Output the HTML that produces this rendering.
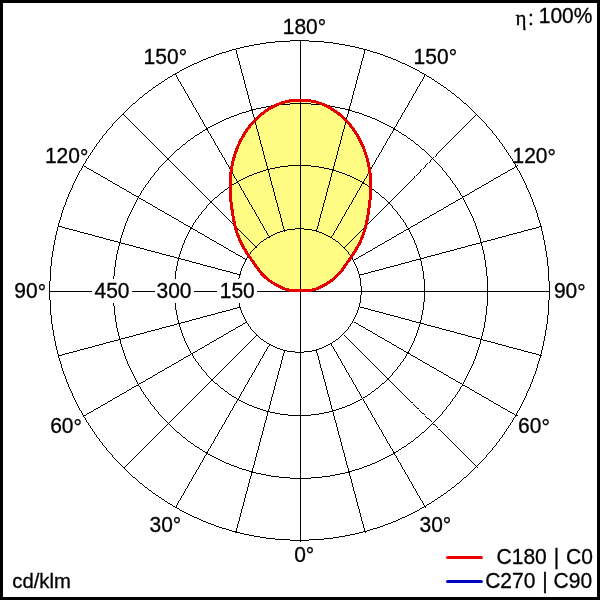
<!DOCTYPE html>
<html><head><meta charset="utf-8"><title>Polar diagram</title>
<style>html,body{margin:0;padding:0;background:#fff;}svg{display:block;}</style>
</head><body>
<svg width="600" height="600" viewBox="0 0 600 600">
<rect x="0" y="0" width="600" height="600" fill="#fff"/>
<path d="M300.40,290.80 L296.27,290.73 L293.34,290.55 L290.91,290.30 L288.90,290.00 L287.21,289.65 L285.79,289.26 L284.54,288.85 L283.40,288.41 L282.28,287.93 L281.11,287.40 L279.86,286.81 L278.53,286.15 L277.15,285.43 L275.71,284.64 L274.25,283.79 L272.76,282.87 L271.26,281.89 L269.77,280.85 L268.29,279.74 L266.85,278.59 L265.45,277.38 L264.10,276.13 L262.82,274.85 L261.61,273.53 L260.47,272.18 L259.38,270.79 L258.30,269.35 L257.20,267.83 L256.06,266.22 L254.85,264.50 L253.55,262.65 L252.13,260.64 L250.60,258.46 L249.00,256.13 L247.36,253.66 L245.72,251.07 L244.10,248.37 L242.54,245.60 L241.07,242.76 L239.73,239.89 L238.52,237.01 L237.44,234.11 L236.49,231.20 L235.63,228.26 L234.87,225.27 L234.18,222.23 L233.56,219.12 L232.99,215.93 L232.46,212.64 L231.96,209.24 L231.49,205.70 L231.05,202.03 L230.67,198.26 L230.36,194.40 L230.16,190.48 L230.07,186.54 L230.12,182.58 L230.32,178.65 L230.66,174.73 L231.15,170.85 L231.77,167.00 L232.55,163.19 L233.46,159.42 L234.52,155.72 L235.71,152.07 L237.04,148.49 L238.51,144.99 L240.11,141.57 L241.84,138.24 L243.69,135.00 L245.68,131.87 L247.78,128.84 L249.99,125.93 L252.32,123.14 L254.76,120.47 L257.30,117.95 L259.94,115.56 L262.68,113.32 L265.50,111.24 L268.40,109.32 L271.38,107.56 L274.43,105.98 L277.53,104.57 L280.70,103.35 L283.91,102.31 L287.16,101.47 L290.44,100.83 L293.75,100.38 L297.07,100.14 L300.40,100.09 L303.73,100.14 L307.05,100.38 L310.36,100.83 L313.64,101.47 L316.89,102.31 L320.10,103.35 L323.27,104.57 L326.37,105.98 L329.42,107.56 L332.40,109.32 L335.30,111.24 L338.12,113.32 L340.86,115.56 L343.50,117.95 L346.04,120.47 L348.48,123.14 L350.81,125.93 L353.02,128.84 L355.12,131.87 L357.11,135.00 L358.96,138.24 L360.69,141.57 L362.29,144.99 L363.76,148.49 L365.09,152.07 L366.28,155.72 L367.34,159.42 L368.25,163.19 L369.03,167.00 L369.65,170.85 L370.14,174.73 L370.48,178.65 L370.68,182.58 L370.73,186.54 L370.64,190.48 L370.44,194.40 L370.13,198.26 L369.75,202.03 L369.31,205.70 L368.84,209.24 L368.34,212.64 L367.81,215.93 L367.24,219.12 L366.62,222.23 L365.93,225.27 L365.17,228.26 L364.31,231.20 L363.36,234.11 L362.28,237.01 L361.07,239.89 L359.73,242.76 L358.26,245.60 L356.70,248.37 L355.08,251.07 L353.44,253.66 L351.80,256.13 L350.20,258.46 L348.67,260.64 L347.25,262.65 L345.95,264.50 L344.74,266.22 L343.60,267.83 L342.50,269.35 L341.42,270.79 L340.33,272.18 L339.19,273.53 L337.98,274.85 L336.70,276.13 L335.35,277.38 L333.95,278.59 L332.51,279.74 L331.03,280.85 L329.54,281.89 L328.04,282.87 L326.55,283.79 L325.09,284.64 L323.65,285.43 L322.27,286.15 L320.94,286.81 L319.69,287.40 L318.52,287.93 L317.40,288.41 L316.26,288.85 L315.01,289.26 L313.59,289.65 L311.90,290.00 L309.89,290.30 L307.46,290.55 L304.53,290.73 L300.40,290.80Z" fill="#FFFC84" stroke="none" shape-rendering="crispEdges"/>
<path d="M290 40h19v1h-19zM275 41h15v1h-15zM300 41h1v1h-1zM309 41h15v1h-15zM266 42h9v1h-9zM300 42h1v1h-1zM324 42h9v1h-9zM260 43h6v1h-6zM300 43h1v1h-1zM333 43h6v1h-6zM254 44h6v1h-6zM300 44h1v1h-1zM339 44h6v1h-6zM249 45h5v1h-5zM300 45h1v1h-1zM345 45h5v1h-5zM244 46h5v1h-5zM300 46h1v1h-1zM350 46h5v1h-5zM240 47h4v1h-4zM300 47h1v1h-1zM355 47h4v1h-4zM236 48h4v1h-4zM300 48h1v1h-1zM359 48h4v1h-4zM232 49h4v1h-4zM300 49h1v1h-1zM363 49h4v1h-4zM229 50h3v1h-3zM236 50h1v1h-1zM300 50h1v1h-1zM364 50h1v1h-1zM367 50h3v1h-3zM226 51h3v1h-3zM236 51h1v1h-1zM300 51h1v1h-1zM364 51h1v1h-1zM370 51h3v1h-3zM222 52h4v1h-4zM236 52h1v1h-1zM300 52h1v1h-1zM364 52h1v1h-1zM373 52h4v1h-4zM219 53h3v1h-3zM236 53h1v1h-1zM300 53h1v1h-1zM364 53h1v1h-1zM377 53h3v1h-3zM216 54h3v1h-3zM237 54h1v1h-1zM300 54h1v1h-1zM363 54h1v1h-1zM380 54h3v1h-3zM214 55h2v1h-2zM237 55h1v1h-1zM300 55h1v1h-1zM363 55h1v1h-1zM383 55h2v1h-2zM211 56h3v1h-3zM237 56h1v1h-1zM300 56h1v1h-1zM363 56h1v1h-1zM385 56h3v1h-3zM208 57h3v1h-3zM237 57h1v1h-1zM300 57h1v1h-1zM363 57h1v1h-1zM388 57h3v1h-3zM206 58h2v1h-2zM238 58h1v1h-1zM300 58h1v1h-1zM362 58h1v1h-1zM391 58h2v1h-2zM203 59h3v1h-3zM238 59h1v1h-1zM300 59h1v1h-1zM362 59h1v1h-1zM393 59h3v1h-3zM201 60h2v1h-2zM238 60h1v1h-1zM300 60h1v1h-1zM362 60h1v1h-1zM396 60h2v1h-2zM199 61h2v1h-2zM239 61h1v1h-1zM300 61h1v1h-1zM361 61h1v1h-1zM398 61h2v1h-2zM197 62h2v1h-2zM239 62h1v1h-1zM300 62h1v1h-1zM361 62h1v1h-1zM400 62h2v1h-2zM194 63h3v1h-3zM239 63h1v1h-1zM300 63h1v1h-1zM361 63h1v1h-1zM402 63h3v1h-3zM192 64h2v1h-2zM239 64h1v1h-1zM300 64h1v1h-1zM361 64h1v1h-1zM405 64h2v1h-2zM190 65h2v1h-2zM240 65h1v1h-1zM300 65h1v1h-1zM360 65h1v1h-1zM407 65h2v1h-2zM188 66h2v1h-2zM240 66h1v1h-1zM300 66h1v1h-1zM360 66h1v1h-1zM409 66h2v1h-2zM186 67h2v1h-2zM240 67h1v1h-1zM300 67h1v1h-1zM360 67h1v1h-1zM411 67h2v1h-2zM184 68h2v1h-2zM240 68h1v1h-1zM300 68h1v1h-1zM360 68h1v1h-1zM413 68h2v1h-2zM182 69h2v1h-2zM241 69h1v1h-1zM300 69h1v1h-1zM359 69h1v1h-1zM415 69h2v1h-2zM180 70h2v1h-2zM241 70h1v1h-1zM300 70h1v1h-1zM359 70h1v1h-1zM417 70h2v1h-2zM179 71h1v1h-1zM241 71h1v1h-1zM300 71h1v1h-1zM359 71h1v1h-1zM419 71h1v1h-1zM177 72h2v1h-2zM241 72h1v1h-1zM300 72h1v1h-1zM359 72h1v1h-1zM420 72h2v1h-2zM175 73h2v1h-2zM242 73h1v1h-1zM300 73h1v1h-1zM358 73h1v1h-1zM422 73h2v1h-2zM173 74h3v1h-3zM242 74h1v1h-1zM300 74h1v1h-1zM358 74h1v1h-1zM424 74h2v1h-2zM172 75h1v1h-1zM176 75h1v1h-1zM242 75h1v1h-1zM300 75h1v1h-1zM358 75h1v1h-1zM424 75h1v1h-1zM426 75h1v1h-1zM170 76h2v1h-2zM176 76h1v1h-1zM243 76h1v1h-1zM300 76h1v1h-1zM357 76h1v1h-1zM424 76h1v1h-1zM427 76h2v1h-2zM168 77h2v1h-2zM177 77h1v1h-1zM243 77h1v1h-1zM300 77h1v1h-1zM357 77h1v1h-1zM423 77h1v1h-1zM429 77h2v1h-2zM167 78h1v1h-1zM177 78h1v1h-1zM243 78h1v1h-1zM300 78h1v1h-1zM357 78h1v1h-1zM423 78h1v1h-1zM431 78h1v1h-1zM165 79h2v1h-2zM178 79h1v1h-1zM243 79h1v1h-1zM300 79h1v1h-1zM357 79h1v1h-1zM422 79h1v1h-1zM432 79h2v1h-2zM164 80h1v1h-1zM178 80h1v1h-1zM244 80h1v1h-1zM300 80h1v1h-1zM356 80h1v1h-1zM422 80h1v1h-1zM434 80h1v1h-1zM162 81h2v1h-2zM179 81h1v1h-1zM244 81h1v1h-1zM300 81h1v1h-1zM356 81h1v1h-1zM421 81h1v1h-1zM435 81h2v1h-2zM161 82h1v1h-1zM180 82h1v1h-1zM244 82h1v1h-1zM300 82h1v1h-1zM356 82h1v1h-1zM420 82h1v1h-1zM437 82h1v1h-1zM159 83h2v1h-2zM180 83h1v1h-1zM244 83h1v1h-1zM300 83h1v1h-1zM356 83h1v1h-1zM420 83h1v1h-1zM438 83h2v1h-2zM158 84h1v1h-1zM181 84h1v1h-1zM245 84h1v1h-1zM300 84h1v1h-1zM355 84h1v1h-1zM419 84h1v1h-1zM440 84h1v1h-1zM156 85h2v1h-2zM181 85h1v1h-1zM245 85h1v1h-1zM300 85h1v1h-1zM355 85h1v1h-1zM419 85h1v1h-1zM441 85h2v1h-2zM155 86h1v1h-1zM182 86h1v1h-1zM245 86h1v1h-1zM300 86h1v1h-1zM355 86h1v1h-1zM418 86h1v1h-1zM443 86h1v1h-1zM153 87h2v1h-2zM183 87h1v1h-1zM245 87h1v1h-1zM300 87h1v1h-1zM355 87h1v1h-1zM417 87h1v1h-1zM444 87h2v1h-2zM152 88h1v1h-1zM183 88h1v1h-1zM246 88h1v1h-1zM300 88h1v1h-1zM354 88h1v1h-1zM417 88h1v1h-1zM446 88h1v1h-1zM151 89h1v1h-1zM184 89h1v1h-1zM246 89h1v1h-1zM300 89h1v1h-1zM354 89h1v1h-1zM416 89h1v1h-1zM447 89h1v1h-1zM149 90h2v1h-2zM184 90h1v1h-1zM246 90h1v1h-1zM300 90h1v1h-1zM354 90h1v1h-1zM416 90h1v1h-1zM448 90h2v1h-2zM148 91h1v1h-1zM185 91h1v1h-1zM247 91h1v1h-1zM300 91h1v1h-1zM353 91h1v1h-1zM415 91h1v1h-1zM450 91h1v1h-1zM147 92h1v1h-1zM185 92h1v1h-1zM247 92h1v1h-1zM300 92h1v1h-1zM353 92h1v1h-1zM415 92h1v1h-1zM451 92h1v1h-1zM145 93h2v1h-2zM186 93h1v1h-1zM247 93h1v1h-1zM300 93h1v1h-1zM353 93h1v1h-1zM414 93h1v1h-1zM452 93h2v1h-2zM144 94h1v1h-1zM187 94h1v1h-1zM247 94h1v1h-1zM300 94h1v1h-1zM353 94h1v1h-1zM413 94h1v1h-1zM454 94h1v1h-1zM143 95h1v1h-1zM187 95h1v1h-1zM248 95h1v1h-1zM300 95h1v1h-1zM352 95h1v1h-1zM413 95h1v1h-1zM455 95h1v1h-1zM142 96h1v1h-1zM188 96h1v1h-1zM248 96h1v1h-1zM300 96h1v1h-1zM352 96h1v1h-1zM412 96h1v1h-1zM456 96h1v1h-1zM140 97h2v1h-2zM188 97h1v1h-1zM248 97h1v1h-1zM300 97h1v1h-1zM352 97h1v1h-1zM412 97h1v1h-1zM457 97h2v1h-2zM139 98h1v1h-1zM189 98h1v1h-1zM248 98h1v1h-1zM300 98h1v1h-1zM352 98h1v1h-1zM411 98h1v1h-1zM459 98h1v1h-1zM138 99h1v1h-1zM189 99h1v1h-1zM249 99h1v1h-1zM300 99h1v1h-1zM351 99h1v1h-1zM411 99h1v1h-1zM460 99h1v1h-1zM137 100h1v1h-1zM190 100h1v1h-1zM249 100h1v1h-1zM300 100h1v1h-1zM351 100h1v1h-1zM410 100h1v1h-1zM461 100h1v1h-1zM136 101h1v1h-1zM191 101h1v1h-1zM249 101h1v1h-1zM300 101h1v1h-1zM351 101h1v1h-1zM409 101h1v1h-1zM462 101h1v1h-1zM135 102h1v1h-1zM191 102h1v1h-1zM249 102h1v1h-1zM300 102h1v1h-1zM351 102h1v1h-1zM409 102h1v1h-1zM463 102h1v1h-1zM133 103h2v1h-2zM192 103h1v1h-1zM250 103h1v1h-1zM290 103h21v1h-21zM350 103h1v1h-1zM408 103h1v1h-1zM464 103h2v1h-2zM132 104h1v1h-1zM192 104h1v1h-1zM250 104h1v1h-1zM279 104h11v1h-11zM300 104h1v1h-1zM311 104h11v1h-11zM350 104h1v1h-1zM408 104h1v1h-1zM466 104h1v1h-1zM131 105h1v1h-1zM193 105h1v1h-1zM250 105h1v1h-1zM271 105h8v1h-8zM300 105h1v1h-1zM322 105h8v1h-8zM350 105h1v1h-1zM407 105h1v1h-1zM467 105h1v1h-1zM130 106h1v1h-1zM193 106h1v1h-1zM251 106h1v1h-1zM266 106h5v1h-5zM300 106h1v1h-1zM330 106h5v1h-5zM349 106h1v1h-1zM407 106h1v1h-1zM468 106h1v1h-1zM129 107h1v1h-1zM194 107h1v1h-1zM251 107h1v1h-1zM261 107h5v1h-5zM300 107h1v1h-1zM335 107h5v1h-5zM349 107h1v1h-1zM406 107h1v1h-1zM469 107h1v1h-1zM128 108h1v1h-1zM195 108h1v1h-1zM251 108h1v1h-1zM256 108h5v1h-5zM300 108h1v1h-1zM340 108h5v1h-5zM349 108h1v1h-1zM405 108h1v1h-1zM470 108h1v1h-1zM127 109h1v1h-1zM195 109h1v1h-1zM251 109h5v1h-5zM300 109h1v1h-1zM345 109h5v1h-5zM405 109h1v1h-1zM471 109h1v1h-1zM126 110h1v1h-1zM196 110h1v1h-1zM249 110h4v1h-4zM300 110h1v1h-1zM348 110h4v1h-4zM404 110h1v1h-1zM472 110h1v1h-1zM125 111h1v1h-1zM196 111h1v1h-1zM246 111h3v1h-3zM252 111h1v1h-1zM300 111h1v1h-1zM348 111h1v1h-1zM352 111h3v1h-3zM404 111h1v1h-1zM473 111h1v1h-1zM124 112h1v1h-1zM197 112h1v1h-1zM242 112h4v1h-4zM252 112h1v1h-1zM300 112h1v1h-1zM348 112h1v1h-1zM355 112h4v1h-4zM403 112h1v1h-1zM474 112h1v1h-1zM123 113h1v1h-1zM198 113h1v1h-1zM239 113h3v1h-3zM252 113h1v1h-1zM300 113h1v1h-1zM348 113h1v1h-1zM359 113h3v1h-3zM402 113h1v1h-1zM475 113h1v1h-1zM122 114h2v1h-2zM198 114h1v1h-1zM237 114h2v1h-2zM253 114h1v1h-1zM300 114h1v1h-1zM347 114h1v1h-1zM362 114h2v1h-2zM402 114h1v1h-1zM476 114h1v1h-1zM121 115h1v1h-1zM124 115h1v1h-1zM199 115h1v1h-1zM234 115h3v1h-3zM253 115h1v1h-1zM300 115h1v1h-1zM347 115h1v1h-1zM364 115h3v1h-3zM401 115h1v1h-1zM475 115h1v1h-1zM477 115h1v1h-1zM120 116h1v1h-1zM125 116h1v1h-1zM199 116h1v1h-1zM231 116h3v1h-3zM253 116h1v1h-1zM300 116h1v1h-1zM347 116h1v1h-1zM367 116h3v1h-3zM401 116h1v1h-1zM474 116h1v1h-1zM478 116h1v1h-1zM119 117h1v1h-1zM126 117h1v1h-1zM200 117h1v1h-1zM229 117h2v1h-2zM254 117h1v1h-1zM300 117h1v1h-1zM346 117h1v1h-1zM370 117h2v1h-2zM400 117h1v1h-1zM473 117h1v1h-1zM479 117h1v1h-1zM118 118h1v1h-1zM127 118h1v1h-1zM200 118h1v1h-1zM226 118h3v1h-3zM254 118h1v1h-1zM300 118h1v1h-1zM346 118h1v1h-1zM372 118h3v1h-3zM400 118h1v1h-1zM472 118h1v1h-1zM480 118h1v1h-1zM117 119h1v1h-1zM128 119h1v1h-1zM201 119h1v1h-1zM224 119h2v1h-2zM254 119h1v1h-1zM300 119h1v1h-1zM346 119h1v1h-1zM375 119h2v1h-2zM399 119h1v1h-1zM471 119h1v1h-1zM481 119h1v1h-1zM116 120h1v1h-1zM129 120h1v1h-1zM202 120h1v1h-1zM222 120h2v1h-2zM254 120h1v1h-1zM300 120h1v1h-1zM346 120h1v1h-1zM377 120h2v1h-2zM398 120h1v1h-1zM470 120h1v1h-1zM482 120h1v1h-1zM115 121h1v1h-1zM130 121h1v1h-1zM202 121h1v1h-1zM220 121h2v1h-2zM255 121h1v1h-1zM300 121h1v1h-1zM345 121h1v1h-1zM379 121h2v1h-2zM398 121h1v1h-1zM469 121h1v1h-1zM483 121h1v1h-1zM114 122h1v1h-1zM131 122h1v1h-1zM203 122h1v1h-1zM218 122h2v1h-2zM255 122h1v1h-1zM300 122h1v1h-1zM345 122h1v1h-1zM381 122h2v1h-2zM397 122h1v1h-1zM468 122h1v1h-1zM484 122h1v1h-1zM113 123h1v1h-1zM132 123h1v1h-1zM203 123h1v1h-1zM216 123h2v1h-2zM255 123h1v1h-1zM300 123h1v1h-1zM345 123h1v1h-1zM383 123h2v1h-2zM397 123h1v1h-1zM467 123h1v1h-1zM485 123h1v1h-1zM112 124h1v1h-1zM133 124h1v1h-1zM204 124h1v1h-1zM214 124h2v1h-2zM255 124h1v1h-1zM300 124h1v1h-1zM345 124h1v1h-1zM385 124h2v1h-2zM396 124h1v1h-1zM466 124h1v1h-1zM486 124h1v1h-1zM112 125h1v1h-1zM134 125h1v1h-1zM204 125h1v1h-1zM212 125h2v1h-2zM256 125h1v1h-1zM300 125h1v1h-1zM344 125h1v1h-1zM387 125h2v1h-2zM396 125h1v1h-1zM465 125h1v1h-1zM486 125h1v1h-1zM111 126h1v1h-1zM135 126h1v1h-1zM205 126h1v1h-1zM210 126h2v1h-2zM256 126h1v1h-1zM300 126h1v1h-1zM344 126h1v1h-1zM389 126h2v1h-2zM395 126h1v1h-1zM464 126h1v1h-1zM487 126h1v1h-1zM110 127h1v1h-1zM136 127h1v1h-1zM206 127h1v1h-1zM208 127h2v1h-2zM256 127h1v1h-1zM300 127h1v1h-1zM344 127h1v1h-1zM391 127h2v1h-2zM394 127h1v1h-1zM463 127h1v1h-1zM488 127h1v1h-1zM109 128h1v1h-1zM137 128h1v1h-1zM206 128h2v1h-2zM256 128h1v1h-1zM300 128h1v1h-1zM344 128h1v1h-1zM393 128h2v1h-2zM462 128h1v1h-1zM489 128h1v1h-1zM108 129h1v1h-1zM138 129h1v1h-1zM205 129h3v1h-3zM257 129h1v1h-1zM300 129h1v1h-1zM343 129h1v1h-1zM393 129h3v1h-3zM461 129h1v1h-1zM490 129h1v1h-1zM107 130h1v1h-1zM139 130h1v1h-1zM203 130h2v1h-2zM207 130h1v1h-1zM257 130h1v1h-1zM300 130h1v1h-1zM343 130h1v1h-1zM393 130h1v1h-1zM396 130h2v1h-2zM460 130h1v1h-1zM491 130h1v1h-1zM106 131h1v1h-1zM140 131h1v1h-1zM202 131h1v1h-1zM208 131h1v1h-1zM257 131h1v1h-1zM300 131h1v1h-1zM343 131h1v1h-1zM392 131h1v1h-1zM398 131h1v1h-1zM459 131h1v1h-1zM492 131h1v1h-1zM106 132h1v1h-1zM141 132h1v1h-1zM200 132h2v1h-2zM208 132h1v1h-1zM258 132h1v1h-1zM300 132h1v1h-1zM342 132h1v1h-1zM392 132h1v1h-1zM399 132h2v1h-2zM458 132h1v1h-1zM492 132h1v1h-1zM105 133h1v1h-1zM142 133h1v1h-1zM199 133h1v1h-1zM209 133h1v1h-1zM258 133h1v1h-1zM300 133h1v1h-1zM342 133h1v1h-1zM391 133h1v1h-1zM401 133h1v1h-1zM457 133h1v1h-1zM493 133h1v1h-1zM104 134h1v1h-1zM143 134h1v1h-1zM197 134h2v1h-2zM210 134h1v1h-1zM258 134h1v1h-1zM300 134h1v1h-1zM342 134h1v1h-1zM390 134h1v1h-1zM402 134h2v1h-2zM456 134h1v1h-1zM494 134h1v1h-1zM103 135h1v1h-1zM144 135h1v1h-1zM195 135h2v1h-2zM210 135h1v1h-1zM258 135h1v1h-1zM300 135h1v1h-1zM342 135h1v1h-1zM390 135h1v1h-1zM404 135h2v1h-2zM455 135h1v1h-1zM495 135h1v1h-1zM102 136h1v1h-1zM145 136h1v1h-1zM194 136h1v1h-1zM211 136h1v1h-1zM259 136h1v1h-1zM300 136h1v1h-1zM341 136h1v1h-1zM389 136h1v1h-1zM406 136h1v1h-1zM454 136h1v1h-1zM496 136h1v1h-1zM102 137h1v1h-1zM146 137h1v1h-1zM193 137h1v1h-1zM211 137h1v1h-1zM259 137h1v1h-1zM300 137h1v1h-1zM341 137h1v1h-1zM389 137h1v1h-1zM407 137h1v1h-1zM453 137h1v1h-1zM496 137h1v1h-1zM101 138h1v1h-1zM147 138h1v1h-1zM191 138h2v1h-2zM212 138h1v1h-1zM259 138h1v1h-1zM300 138h1v1h-1zM341 138h1v1h-1zM388 138h1v1h-1zM408 138h2v1h-2zM452 138h1v1h-1zM497 138h1v1h-1zM100 139h1v1h-1zM148 139h1v1h-1zM190 139h1v1h-1zM213 139h1v1h-1zM259 139h1v1h-1zM300 139h1v1h-1zM341 139h1v1h-1zM387 139h1v1h-1zM410 139h1v1h-1zM451 139h1v1h-1zM498 139h1v1h-1zM99 140h1v1h-1zM149 140h1v1h-1zM188 140h2v1h-2zM213 140h1v1h-1zM260 140h1v1h-1zM300 140h1v1h-1zM340 140h1v1h-1zM387 140h1v1h-1zM411 140h2v1h-2zM450 140h1v1h-1zM499 140h1v1h-1zM99 141h1v1h-1zM150 141h1v1h-1zM187 141h1v1h-1zM214 141h1v1h-1zM260 141h1v1h-1zM300 141h1v1h-1zM340 141h1v1h-1zM386 141h1v1h-1zM413 141h1v1h-1zM449 141h1v1h-1zM499 141h1v1h-1zM98 142h1v1h-1zM151 142h1v1h-1zM186 142h1v1h-1zM214 142h1v1h-1zM260 142h1v1h-1zM300 142h1v1h-1zM340 142h1v1h-1zM386 142h1v1h-1zM414 142h1v1h-1zM448 142h1v1h-1zM500 142h1v1h-1zM97 143h1v1h-1zM152 143h1v1h-1zM185 143h1v1h-1zM215 143h1v1h-1zM260 143h1v1h-1zM300 143h1v1h-1zM340 143h1v1h-1zM385 143h1v1h-1zM415 143h1v1h-1zM447 143h1v1h-1zM501 143h1v1h-1zM96 144h1v1h-1zM153 144h1v1h-1zM183 144h2v1h-2zM215 144h1v1h-1zM261 144h1v1h-1zM300 144h1v1h-1zM339 144h1v1h-1zM385 144h1v1h-1zM416 144h2v1h-2zM446 144h1v1h-1zM502 144h1v1h-1zM96 145h1v1h-1zM154 145h1v1h-1zM182 145h1v1h-1zM216 145h1v1h-1zM261 145h1v1h-1zM300 145h1v1h-1zM339 145h1v1h-1zM384 145h1v1h-1zM418 145h1v1h-1zM445 145h1v1h-1zM502 145h1v1h-1zM95 146h1v1h-1zM155 146h1v1h-1zM181 146h1v1h-1zM217 146h1v1h-1zM261 146h1v1h-1zM300 146h1v1h-1zM339 146h1v1h-1zM383 146h1v1h-1zM419 146h1v1h-1zM444 146h1v1h-1zM503 146h1v1h-1zM94 147h1v1h-1zM156 147h1v1h-1zM180 147h1v1h-1zM217 147h1v1h-1zM262 147h1v1h-1zM300 147h1v1h-1zM338 147h1v1h-1zM383 147h1v1h-1zM420 147h1v1h-1zM443 147h1v1h-1zM504 147h1v1h-1zM94 148h1v1h-1zM157 148h1v1h-1zM179 148h1v1h-1zM218 148h1v1h-1zM262 148h1v1h-1zM300 148h1v1h-1zM338 148h1v1h-1zM382 148h1v1h-1zM421 148h1v1h-1zM442 148h1v1h-1zM504 148h1v1h-1zM93 149h1v1h-1zM158 149h1v1h-1zM177 149h2v1h-2zM218 149h1v1h-1zM262 149h1v1h-1zM300 149h1v1h-1zM338 149h1v1h-1zM382 149h1v1h-1zM422 149h2v1h-2zM441 149h1v1h-1zM505 149h1v1h-1zM92 150h1v1h-1zM159 150h1v1h-1zM176 150h1v1h-1zM219 150h1v1h-1zM262 150h1v1h-1zM300 150h1v1h-1zM338 150h1v1h-1zM381 150h1v1h-1zM424 150h1v1h-1zM440 150h1v1h-1zM506 150h1v1h-1zM92 151h1v1h-1zM160 151h1v1h-1zM175 151h1v1h-1zM219 151h1v1h-1zM263 151h1v1h-1zM300 151h1v1h-1zM337 151h1v1h-1zM381 151h1v1h-1zM425 151h1v1h-1zM439 151h1v1h-1zM506 151h1v1h-1zM91 152h1v1h-1zM161 152h1v1h-1zM174 152h1v1h-1zM220 152h1v1h-1zM263 152h1v1h-1zM300 152h1v1h-1zM337 152h1v1h-1zM380 152h1v1h-1zM426 152h1v1h-1zM438 152h1v1h-1zM507 152h1v1h-1zM90 153h1v1h-1zM162 153h1v1h-1zM173 153h1v1h-1zM221 153h1v1h-1zM263 153h1v1h-1zM300 153h1v1h-1zM337 153h1v1h-1zM379 153h1v1h-1zM427 153h1v1h-1zM437 153h1v1h-1zM508 153h1v1h-1zM90 154h1v1h-1zM163 154h1v1h-1zM172 154h1v1h-1zM221 154h1v1h-1zM263 154h1v1h-1zM300 154h1v1h-1zM337 154h1v1h-1zM379 154h1v1h-1zM428 154h1v1h-1zM436 154h1v1h-1zM508 154h1v1h-1zM89 155h1v1h-1zM164 155h1v1h-1zM171 155h1v1h-1zM222 155h1v1h-1zM264 155h1v1h-1zM300 155h1v1h-1zM336 155h1v1h-1zM378 155h1v1h-1zM429 155h1v1h-1zM436 155h1v1h-1zM509 155h1v1h-1zM88 156h1v1h-1zM165 156h1v1h-1zM170 156h1v1h-1zM222 156h1v1h-1zM264 156h1v1h-1zM300 156h1v1h-1zM336 156h1v1h-1zM378 156h1v1h-1zM430 156h1v1h-1zM435 156h1v1h-1zM510 156h1v1h-1zM88 157h1v1h-1zM166 157h1v1h-1zM169 157h1v1h-1zM223 157h1v1h-1zM264 157h1v1h-1zM300 157h1v1h-1zM336 157h1v1h-1zM377 157h1v1h-1zM431 157h1v1h-1zM433 157h1v1h-1zM510 157h1v1h-1zM87 158h1v1h-1zM167 158h2v1h-2zM224 158h1v1h-1zM264 158h1v1h-1zM300 158h1v1h-1zM336 158h1v1h-1zM376 158h1v1h-1zM432 158h1v1h-1zM511 158h1v1h-1zM86 159h1v1h-1zM167 159h2v1h-2zM224 159h1v1h-1zM265 159h1v1h-1zM300 159h1v1h-1zM335 159h1v1h-1zM376 159h1v1h-1zM431 159h1v1h-1zM433 159h1v1h-1zM512 159h1v1h-1zM86 160h1v1h-1zM166 160h1v1h-1zM169 160h1v1h-1zM225 160h1v1h-1zM265 160h1v1h-1zM300 160h1v1h-1zM335 160h1v1h-1zM375 160h1v1h-1zM430 160h1v1h-1zM434 160h1v1h-1zM512 160h1v1h-1zM85 161h1v1h-1zM165 161h1v1h-1zM170 161h1v1h-1zM225 161h1v1h-1zM265 161h1v1h-1zM300 161h1v1h-1zM335 161h1v1h-1zM375 161h1v1h-1zM430 161h1v1h-1zM435 161h1v1h-1zM513 161h1v1h-1zM85 162h1v1h-1zM164 162h1v1h-1zM171 162h1v1h-1zM226 162h1v1h-1zM266 162h1v1h-1zM300 162h1v1h-1zM334 162h1v1h-1zM374 162h1v1h-1zM429 162h1v1h-1zM436 162h1v1h-1zM513 162h1v1h-1zM84 163h1v1h-1zM163 163h1v1h-1zM172 163h1v1h-1zM226 163h1v1h-1zM266 163h1v1h-1zM300 163h1v1h-1zM334 163h1v1h-1zM374 163h1v1h-1zM427 163h1v1h-1zM437 163h1v1h-1zM514 163h1v1h-1zM83 164h1v1h-1zM162 164h1v1h-1zM173 164h1v1h-1zM227 164h1v1h-1zM266 164h1v1h-1zM300 164h1v1h-1zM334 164h1v1h-1zM373 164h1v1h-1zM426 164h1v1h-1zM438 164h1v1h-1zM515 164h1v1h-1zM83 165h1v1h-1zM161 165h1v1h-1zM174 165h1v1h-1zM228 165h1v1h-1zM266 165h1v1h-1zM288 165h23v1h-23zM334 165h1v1h-1zM372 165h1v1h-1zM425 165h1v1h-1zM439 165h1v1h-1zM515 165h1v1h-1zM517 165h1v1h-1zM82 166h1v1h-1zM84 166h2v1h-2zM160 166h1v1h-1zM175 166h1v1h-1zM228 166h1v1h-1zM267 166h1v1h-1zM280 166h8v1h-8zM300 166h1v1h-1zM311 166h8v1h-8zM333 166h1v1h-1zM372 166h1v1h-1zM425 166h1v1h-1zM440 166h1v1h-1zM515 166h2v1h-2zM82 167h1v1h-1zM86 167h1v1h-1zM159 167h1v1h-1zM176 167h1v1h-1zM229 167h1v1h-1zM267 167h1v1h-1zM275 167h5v1h-5zM300 167h1v1h-1zM319 167h5v1h-5zM333 167h1v1h-1zM371 167h1v1h-1zM424 167h1v1h-1zM441 167h1v1h-1zM514 167h1v1h-1zM516 167h1v1h-1zM81 168h1v1h-1zM87 168h2v1h-2zM158 168h1v1h-1zM177 168h1v1h-1zM229 168h1v1h-1zM267 168h1v1h-1zM270 168h5v1h-5zM300 168h1v1h-1zM324 168h5v1h-5zM333 168h1v1h-1zM371 168h1v1h-1zM423 168h1v1h-1zM442 168h1v1h-1zM512 168h2v1h-2zM517 168h1v1h-1zM81 169h1v1h-1zM89 169h2v1h-2zM158 169h1v1h-1zM178 169h1v1h-1zM230 169h1v1h-1zM266 169h4v1h-4zM300 169h1v1h-1zM329 169h5v1h-5zM370 169h1v1h-1zM421 169h1v1h-1zM442 169h1v1h-1zM510 169h2v1h-2zM517 169h1v1h-1zM80 170h1v1h-1zM91 170h2v1h-2zM157 170h1v1h-1zM179 170h1v1h-1zM230 170h1v1h-1zM263 170h3v1h-3zM268 170h1v1h-1zM300 170h1v1h-1zM332 170h4v1h-4zM370 170h1v1h-1zM420 170h1v1h-1zM443 170h1v1h-1zM508 170h2v1h-2zM518 170h1v1h-1zM79 171h1v1h-1zM93 171h1v1h-1zM156 171h1v1h-1zM180 171h1v1h-1zM231 171h1v1h-1zM260 171h3v1h-3zM268 171h1v1h-1zM300 171h1v1h-1zM332 171h1v1h-1zM336 171h3v1h-3zM369 171h1v1h-1zM420 171h1v1h-1zM444 171h1v1h-1zM507 171h1v1h-1zM519 171h1v1h-1zM79 172h1v1h-1zM94 172h2v1h-2zM155 172h1v1h-1zM181 172h1v1h-1zM232 172h1v1h-1zM257 172h3v1h-3zM268 172h1v1h-1zM300 172h1v1h-1zM332 172h1v1h-1zM339 172h3v1h-3zM368 172h1v1h-1zM419 172h1v1h-1zM445 172h1v1h-1zM505 172h2v1h-2zM519 172h1v1h-1zM78 173h1v1h-1zM96 173h2v1h-2zM154 173h1v1h-1zM182 173h1v1h-1zM232 173h1v1h-1zM254 173h3v1h-3zM269 173h1v1h-1zM300 173h1v1h-1zM331 173h1v1h-1zM342 173h3v1h-3zM368 173h1v1h-1zM418 173h1v1h-1zM446 173h1v1h-1zM503 173h2v1h-2zM520 173h1v1h-1zM78 174h1v1h-1zM98 174h2v1h-2zM154 174h1v1h-1zM183 174h1v1h-1zM233 174h1v1h-1zM252 174h2v1h-2zM269 174h1v1h-1zM300 174h1v1h-1zM331 174h1v1h-1zM345 174h2v1h-2zM367 174h1v1h-1zM417 174h1v1h-1zM446 174h1v1h-1zM501 174h2v1h-2zM520 174h1v1h-1zM77 175h1v1h-1zM100 175h1v1h-1zM153 175h1v1h-1zM184 175h1v1h-1zM233 175h1v1h-1zM249 175h3v1h-3zM269 175h1v1h-1zM300 175h1v1h-1zM331 175h1v1h-1zM347 175h3v1h-3zM367 175h1v1h-1zM416 175h1v1h-1zM447 175h1v1h-1zM500 175h1v1h-1zM521 175h1v1h-1zM77 176h1v1h-1zM101 176h2v1h-2zM152 176h1v1h-1zM185 176h1v1h-1zM234 176h1v1h-1zM247 176h2v1h-2zM269 176h1v1h-1zM300 176h1v1h-1zM331 176h1v1h-1zM350 176h2v1h-2zM366 176h1v1h-1zM414 176h1v1h-1zM448 176h1v1h-1zM498 176h2v1h-2zM521 176h1v1h-1zM76 177h1v1h-1zM103 177h2v1h-2zM151 177h1v1h-1zM186 177h1v1h-1zM234 177h1v1h-1zM245 177h2v1h-2zM270 177h1v1h-1zM300 177h1v1h-1zM330 177h1v1h-1zM352 177h2v1h-2zM366 177h1v1h-1zM414 177h1v1h-1zM449 177h1v1h-1zM496 177h2v1h-2zM522 177h1v1h-1zM76 178h1v1h-1zM105 178h2v1h-2zM150 178h1v1h-1zM187 178h1v1h-1zM235 178h1v1h-1zM243 178h2v1h-2zM270 178h1v1h-1zM300 178h1v1h-1zM330 178h1v1h-1zM354 178h2v1h-2zM365 178h1v1h-1zM413 178h1v1h-1zM450 178h1v1h-1zM494 178h2v1h-2zM522 178h1v1h-1zM75 179h1v1h-1zM107 179h1v1h-1zM150 179h1v1h-1zM188 179h1v1h-1zM236 179h1v1h-1zM241 179h2v1h-2zM270 179h1v1h-1zM300 179h1v1h-1zM330 179h1v1h-1zM356 179h2v1h-2zM364 179h1v1h-1zM412 179h1v1h-1zM450 179h1v1h-1zM493 179h1v1h-1zM523 179h1v1h-1zM75 180h1v1h-1zM108 180h2v1h-2zM149 180h1v1h-1zM189 180h1v1h-1zM236 180h1v1h-1zM239 180h2v1h-2zM270 180h1v1h-1zM300 180h1v1h-1zM330 180h1v1h-1zM358 180h2v1h-2zM364 180h1v1h-1zM411 180h1v1h-1zM451 180h1v1h-1zM491 180h2v1h-2zM523 180h1v1h-1zM74 181h1v1h-1zM110 181h2v1h-2zM148 181h1v1h-1zM190 181h1v1h-1zM237 181h2v1h-2zM271 181h1v1h-1zM300 181h1v1h-1zM329 181h1v1h-1zM360 181h2v1h-2zM363 181h1v1h-1zM410 181h1v1h-1zM452 181h1v1h-1zM489 181h2v1h-2zM524 181h1v1h-1zM74 182h1v1h-1zM112 182h1v1h-1zM148 182h1v1h-1zM191 182h1v1h-1zM236 182h2v1h-2zM271 182h1v1h-1zM300 182h1v1h-1zM329 182h1v1h-1zM362 182h2v1h-2zM409 182h1v1h-1zM452 182h1v1h-1zM488 182h1v1h-1zM524 182h1v1h-1zM73 183h1v1h-1zM113 183h2v1h-2zM147 183h1v1h-1zM192 183h1v1h-1zM234 183h2v1h-2zM238 183h1v1h-1zM271 183h1v1h-1zM300 183h1v1h-1zM329 183h1v1h-1zM362 183h3v1h-3zM408 183h1v1h-1zM453 183h1v1h-1zM486 183h2v1h-2zM525 183h1v1h-1zM73 184h1v1h-1zM115 184h2v1h-2zM146 184h1v1h-1zM193 184h1v1h-1zM232 184h2v1h-2zM239 184h1v1h-1zM271 184h1v1h-1zM300 184h1v1h-1zM329 184h1v1h-1zM361 184h1v1h-1zM365 184h2v1h-2zM407 184h1v1h-1zM454 184h1v1h-1zM484 184h2v1h-2zM525 184h1v1h-1zM72 185h1v1h-1zM117 185h2v1h-2zM145 185h1v1h-1zM194 185h1v1h-1zM231 185h1v1h-1zM239 185h1v1h-1zM272 185h1v1h-1zM300 185h1v1h-1zM328 185h1v1h-1zM361 185h1v1h-1zM367 185h1v1h-1zM406 185h1v1h-1zM455 185h1v1h-1zM482 185h2v1h-2zM526 185h1v1h-1zM72 186h1v1h-1zM119 186h1v1h-1zM145 186h1v1h-1zM195 186h1v1h-1zM229 186h2v1h-2zM240 186h1v1h-1zM272 186h1v1h-1zM300 186h1v1h-1zM328 186h1v1h-1zM360 186h1v1h-1zM368 186h2v1h-2zM405 186h1v1h-1zM455 186h1v1h-1zM481 186h1v1h-1zM526 186h1v1h-1zM72 187h1v1h-1zM120 187h2v1h-2zM144 187h1v1h-1zM196 187h1v1h-1zM228 187h1v1h-1zM240 187h1v1h-1zM272 187h1v1h-1zM300 187h1v1h-1zM328 187h1v1h-1zM360 187h1v1h-1zM370 187h1v1h-1zM404 187h1v1h-1zM456 187h1v1h-1zM479 187h2v1h-2zM526 187h1v1h-1zM71 188h1v1h-1zM122 188h2v1h-2zM143 188h1v1h-1zM197 188h1v1h-1zM227 188h1v1h-1zM241 188h1v1h-1zM273 188h1v1h-1zM300 188h1v1h-1zM327 188h1v1h-1zM359 188h1v1h-1zM371 188h1v1h-1zM403 188h1v1h-1zM457 188h1v1h-1zM477 188h2v1h-2zM527 188h1v1h-1zM71 189h1v1h-1zM124 189h2v1h-2zM143 189h1v1h-1zM198 189h1v1h-1zM225 189h2v1h-2zM241 189h1v1h-1zM273 189h1v1h-1zM300 189h1v1h-1zM327 189h1v1h-1zM359 189h1v1h-1zM372 189h2v1h-2zM402 189h1v1h-1zM457 189h1v1h-1zM475 189h2v1h-2zM527 189h1v1h-1zM70 190h1v1h-1zM126 190h1v1h-1zM142 190h1v1h-1zM199 190h1v1h-1zM224 190h1v1h-1zM242 190h1v1h-1zM273 190h1v1h-1zM300 190h1v1h-1zM327 190h1v1h-1zM358 190h1v1h-1zM374 190h1v1h-1zM401 190h1v1h-1zM458 190h1v1h-1zM474 190h1v1h-1zM528 190h1v1h-1zM70 191h1v1h-1zM127 191h2v1h-2zM141 191h1v1h-1zM200 191h1v1h-1zM223 191h1v1h-1zM243 191h1v1h-1zM273 191h1v1h-1zM300 191h1v1h-1zM327 191h1v1h-1zM357 191h1v1h-1zM375 191h1v1h-1zM400 191h1v1h-1zM459 191h1v1h-1zM472 191h2v1h-2zM528 191h1v1h-1zM69 192h1v1h-1zM129 192h2v1h-2zM141 192h1v1h-1zM201 192h1v1h-1zM221 192h2v1h-2zM243 192h1v1h-1zM274 192h1v1h-1zM300 192h1v1h-1zM326 192h1v1h-1zM357 192h1v1h-1zM376 192h2v1h-2zM399 192h1v1h-1zM459 192h1v1h-1zM470 192h2v1h-2zM529 192h1v1h-1zM69 193h1v1h-1zM131 193h1v1h-1zM140 193h1v1h-1zM202 193h1v1h-1zM220 193h1v1h-1zM244 193h1v1h-1zM274 193h1v1h-1zM300 193h1v1h-1zM326 193h1v1h-1zM356 193h1v1h-1zM378 193h1v1h-1zM398 193h1v1h-1zM460 193h1v1h-1zM469 193h1v1h-1zM529 193h1v1h-1zM68 194h1v1h-1zM132 194h2v1h-2zM140 194h1v1h-1zM203 194h1v1h-1zM219 194h1v1h-1zM244 194h1v1h-1zM274 194h1v1h-1zM300 194h1v1h-1zM326 194h1v1h-1zM356 194h1v1h-1zM379 194h1v1h-1zM397 194h1v1h-1zM460 194h1v1h-1zM467 194h2v1h-2zM530 194h1v1h-1zM68 195h1v1h-1zM134 195h2v1h-2zM139 195h1v1h-1zM204 195h1v1h-1zM218 195h1v1h-1zM245 195h1v1h-1zM274 195h1v1h-1zM300 195h1v1h-1zM326 195h1v1h-1zM355 195h1v1h-1zM380 195h1v1h-1zM396 195h1v1h-1zM461 195h1v1h-1zM465 195h2v1h-2zM530 195h1v1h-1zM68 196h1v1h-1zM136 196h3v1h-3zM205 196h1v1h-1zM217 196h1v1h-1zM245 196h1v1h-1zM275 196h1v1h-1zM300 196h1v1h-1zM325 196h1v1h-1zM355 196h1v1h-1zM381 196h1v1h-1zM395 196h1v1h-1zM462 196h3v1h-3zM530 196h1v1h-1zM67 197h1v1h-1zM138 197h1v1h-1zM206 197h1v1h-1zM215 197h2v1h-2zM246 197h1v1h-1zM275 197h1v1h-1zM300 197h1v1h-1zM325 197h1v1h-1zM354 197h1v1h-1zM382 197h2v1h-2zM394 197h1v1h-1zM462 197h1v1h-1zM531 197h1v1h-1zM67 198h1v1h-1zM137 198h1v1h-1zM139 198h2v1h-2zM207 198h1v1h-1zM214 198h1v1h-1zM247 198h1v1h-1zM275 198h1v1h-1zM300 198h1v1h-1zM325 198h1v1h-1zM353 198h1v1h-1zM384 198h1v1h-1zM393 198h1v1h-1zM460 198h2v1h-2zM463 198h1v1h-1zM531 198h1v1h-1zM66 199h1v1h-1zM137 199h1v1h-1zM141 199h2v1h-2zM208 199h1v1h-1zM213 199h1v1h-1zM247 199h1v1h-1zM275 199h1v1h-1zM300 199h1v1h-1zM325 199h1v1h-1zM353 199h1v1h-1zM385 199h1v1h-1zM392 199h1v1h-1zM458 199h2v1h-2zM463 199h1v1h-1zM532 199h1v1h-1zM66 200h1v1h-1zM136 200h1v1h-1zM143 200h2v1h-2zM209 200h1v1h-1zM212 200h1v1h-1zM248 200h1v1h-1zM276 200h1v1h-1zM300 200h1v1h-1zM324 200h1v1h-1zM352 200h1v1h-1zM386 200h1v1h-1zM391 200h1v1h-1zM456 200h2v1h-2zM464 200h1v1h-1zM532 200h1v1h-1zM66 201h1v1h-1zM136 201h1v1h-1zM145 201h1v1h-1zM210 201h2v1h-2zM248 201h1v1h-1zM276 201h1v1h-1zM300 201h1v1h-1zM324 201h1v1h-1zM352 201h1v1h-1zM387 201h1v1h-1zM390 201h1v1h-1zM455 201h1v1h-1zM464 201h1v1h-1zM532 201h1v1h-1zM65 202h1v1h-1zM135 202h1v1h-1zM146 202h2v1h-2zM210 202h2v1h-2zM249 202h1v1h-1zM276 202h1v1h-1zM300 202h1v1h-1zM324 202h1v1h-1zM351 202h1v1h-1zM388 202h2v1h-2zM453 202h2v1h-2zM465 202h1v1h-1zM533 202h1v1h-1zM65 203h1v1h-1zM135 203h1v1h-1zM148 203h2v1h-2zM209 203h1v1h-1zM212 203h1v1h-1zM249 203h1v1h-1zM277 203h1v1h-1zM300 203h1v1h-1zM323 203h1v1h-1zM351 203h1v1h-1zM388 203h2v1h-2zM451 203h2v1h-2zM465 203h1v1h-1zM533 203h1v1h-1zM65 204h1v1h-1zM134 204h1v1h-1zM150 204h2v1h-2zM208 204h1v1h-1zM213 204h1v1h-1zM250 204h1v1h-1zM277 204h1v1h-1zM300 204h1v1h-1zM323 204h1v1h-1zM350 204h1v1h-1zM387 204h1v1h-1zM390 204h1v1h-1zM449 204h2v1h-2zM466 204h1v1h-1zM533 204h1v1h-1zM64 205h1v1h-1zM134 205h1v1h-1zM152 205h1v1h-1zM207 205h1v1h-1zM214 205h1v1h-1zM251 205h1v1h-1zM277 205h1v1h-1zM300 205h1v1h-1zM323 205h1v1h-1zM349 205h1v1h-1zM386 205h1v1h-1zM391 205h1v1h-1zM448 205h1v1h-1zM466 205h1v1h-1zM534 205h1v1h-1zM64 206h1v1h-1zM133 206h1v1h-1zM153 206h2v1h-2zM206 206h1v1h-1zM215 206h1v1h-1zM251 206h1v1h-1zM277 206h1v1h-1zM300 206h1v1h-1zM323 206h1v1h-1zM349 206h1v1h-1zM385 206h1v1h-1zM392 206h1v1h-1zM446 206h2v1h-2zM467 206h1v1h-1zM534 206h1v1h-1zM63 207h1v1h-1zM133 207h1v1h-1zM155 207h2v1h-2zM206 207h1v1h-1zM216 207h1v1h-1zM252 207h1v1h-1zM278 207h1v1h-1zM300 207h1v1h-1zM322 207h1v1h-1zM348 207h1v1h-1zM384 207h1v1h-1zM392 207h1v1h-1zM444 207h2v1h-2zM467 207h1v1h-1zM535 207h1v1h-1zM63 208h1v1h-1zM132 208h1v1h-1zM157 208h1v1h-1zM205 208h1v1h-1zM217 208h1v1h-1zM252 208h1v1h-1zM278 208h1v1h-1zM300 208h1v1h-1zM322 208h1v1h-1zM348 208h1v1h-1zM383 208h1v1h-1zM393 208h1v1h-1zM443 208h1v1h-1zM468 208h1v1h-1zM535 208h1v1h-1zM63 209h1v1h-1zM132 209h1v1h-1zM158 209h2v1h-2zM204 209h1v1h-1zM218 209h1v1h-1zM253 209h1v1h-1zM278 209h1v1h-1zM300 209h1v1h-1zM322 209h1v1h-1zM347 209h1v1h-1zM382 209h1v1h-1zM394 209h1v1h-1zM441 209h2v1h-2zM468 209h1v1h-1zM535 209h1v1h-1zM62 210h1v1h-1zM131 210h1v1h-1zM160 210h2v1h-2zM203 210h1v1h-1zM219 210h1v1h-1zM254 210h1v1h-1zM278 210h1v1h-1zM300 210h1v1h-1zM322 210h1v1h-1zM346 210h1v1h-1zM381 210h1v1h-1zM395 210h1v1h-1zM439 210h2v1h-2zM469 210h1v1h-1zM536 210h1v1h-1zM62 211h1v1h-1zM131 211h1v1h-1zM162 211h2v1h-2zM202 211h1v1h-1zM220 211h1v1h-1zM254 211h1v1h-1zM279 211h1v1h-1zM300 211h1v1h-1zM321 211h1v1h-1zM346 211h1v1h-1zM380 211h1v1h-1zM396 211h1v1h-1zM437 211h2v1h-2zM469 211h1v1h-1zM536 211h1v1h-1zM62 212h1v1h-1zM130 212h1v1h-1zM164 212h1v1h-1zM201 212h1v1h-1zM221 212h1v1h-1zM255 212h1v1h-1zM279 212h1v1h-1zM300 212h1v1h-1zM321 212h1v1h-1zM345 212h1v1h-1zM379 212h1v1h-1zM397 212h1v1h-1zM436 212h1v1h-1zM470 212h1v1h-1zM536 212h1v1h-1zM61 213h1v1h-1zM130 213h1v1h-1zM165 213h2v1h-2zM201 213h1v1h-1zM222 213h1v1h-1zM255 213h1v1h-1zM279 213h1v1h-1zM300 213h1v1h-1zM321 213h1v1h-1zM345 213h1v1h-1zM378 213h1v1h-1zM397 213h1v1h-1zM434 213h2v1h-2zM470 213h1v1h-1zM537 213h1v1h-1zM61 214h1v1h-1zM129 214h1v1h-1zM167 214h2v1h-2zM200 214h1v1h-1zM223 214h1v1h-1zM256 214h1v1h-1zM280 214h1v1h-1zM300 214h1v1h-1zM320 214h1v1h-1zM344 214h1v1h-1zM377 214h1v1h-1zM398 214h1v1h-1zM432 214h2v1h-2zM471 214h1v1h-1zM537 214h1v1h-1zM61 215h1v1h-1zM129 215h1v1h-1zM169 215h2v1h-2zM199 215h1v1h-1zM224 215h1v1h-1zM256 215h1v1h-1zM280 215h1v1h-1zM300 215h1v1h-1zM320 215h1v1h-1zM344 215h1v1h-1zM376 215h1v1h-1zM399 215h1v1h-1zM430 215h2v1h-2zM471 215h1v1h-1zM537 215h1v1h-1zM61 216h1v1h-1zM128 216h1v1h-1zM171 216h1v1h-1zM198 216h1v1h-1zM225 216h1v1h-1zM257 216h1v1h-1zM280 216h1v1h-1zM300 216h1v1h-1zM320 216h1v1h-1zM343 216h1v1h-1zM375 216h1v1h-1zM400 216h1v1h-1zM429 216h1v1h-1zM472 216h1v1h-1zM537 216h1v1h-1zM60 217h1v1h-1zM128 217h1v1h-1zM172 217h2v1h-2zM198 217h1v1h-1zM226 217h1v1h-1zM258 217h1v1h-1zM280 217h1v1h-1zM300 217h1v1h-1zM320 217h1v1h-1zM342 217h1v1h-1zM374 217h1v1h-1zM400 217h1v1h-1zM427 217h2v1h-2zM472 217h1v1h-1zM538 217h1v1h-1zM60 218h1v1h-1zM127 218h1v1h-1zM174 218h2v1h-2zM197 218h1v1h-1zM227 218h1v1h-1zM258 218h1v1h-1zM281 218h1v1h-1zM300 218h1v1h-1zM319 218h1v1h-1zM342 218h1v1h-1zM373 218h1v1h-1zM401 218h1v1h-1zM425 218h2v1h-2zM473 218h1v1h-1zM538 218h1v1h-1zM60 219h1v1h-1zM127 219h1v1h-1zM176 219h2v1h-2zM196 219h1v1h-1zM228 219h1v1h-1zM259 219h1v1h-1zM281 219h1v1h-1zM300 219h1v1h-1zM319 219h1v1h-1zM341 219h1v1h-1zM372 219h1v1h-1zM402 219h1v1h-1zM423 219h2v1h-2zM473 219h1v1h-1zM538 219h1v1h-1zM59 220h1v1h-1zM127 220h1v1h-1zM178 220h1v1h-1zM195 220h1v1h-1zM229 220h1v1h-1zM259 220h1v1h-1zM281 220h1v1h-1zM300 220h1v1h-1zM319 220h1v1h-1zM341 220h1v1h-1zM371 220h1v1h-1zM403 220h1v1h-1zM422 220h1v1h-1zM473 220h1v1h-1zM539 220h1v1h-1zM59 221h1v1h-1zM126 221h1v1h-1zM179 221h2v1h-2zM195 221h1v1h-1zM230 221h1v1h-1zM260 221h1v1h-1zM281 221h1v1h-1zM300 221h1v1h-1zM319 221h1v1h-1zM340 221h1v1h-1zM370 221h1v1h-1zM403 221h1v1h-1zM420 221h2v1h-2zM474 221h1v1h-1zM539 221h1v1h-1zM59 222h1v1h-1zM126 222h1v1h-1zM181 222h2v1h-2zM194 222h1v1h-1zM231 222h1v1h-1zM260 222h1v1h-1zM282 222h1v1h-1zM300 222h1v1h-1zM318 222h1v1h-1zM340 222h1v1h-1zM369 222h1v1h-1zM404 222h1v1h-1zM418 222h2v1h-2zM474 222h1v1h-1zM539 222h1v1h-1zM58 223h1v1h-1zM125 223h1v1h-1zM183 223h1v1h-1zM193 223h1v1h-1zM232 223h1v1h-1zM261 223h1v1h-1zM282 223h1v1h-1zM300 223h1v1h-1zM318 223h1v1h-1zM339 223h1v1h-1zM368 223h1v1h-1zM405 223h1v1h-1zM417 223h1v1h-1zM475 223h1v1h-1zM540 223h1v1h-1zM58 224h1v1h-1zM125 224h1v1h-1zM184 224h2v1h-2zM193 224h1v1h-1zM233 224h1v1h-1zM262 224h1v1h-1zM282 224h1v1h-1zM300 224h1v1h-1zM318 224h1v1h-1zM338 224h1v1h-1zM367 224h1v1h-1zM405 224h1v1h-1zM415 224h2v1h-2zM475 224h1v1h-1zM540 224h1v1h-1zM58 225h1v1h-1zM125 225h1v1h-1zM186 225h2v1h-2zM192 225h1v1h-1zM234 225h1v1h-1zM262 225h1v1h-1zM282 225h1v1h-1zM300 225h1v1h-1zM318 225h1v1h-1zM338 225h1v1h-1zM366 225h1v1h-1zM406 225h1v1h-1zM413 225h2v1h-2zM475 225h1v1h-1zM540 225h1v1h-1zM58 226h4v1h-4zM124 226h1v1h-1zM188 226h2v1h-2zM192 226h1v1h-1zM235 226h1v1h-1zM263 226h1v1h-1zM283 226h1v1h-1zM300 226h1v1h-1zM317 226h1v1h-1zM337 226h1v1h-1zM365 226h1v1h-1zM406 226h1v1h-1zM411 226h2v1h-2zM476 226h1v1h-1zM539 226h3v1h-3zM57 227h1v1h-1zM62 227h3v1h-3zM124 227h1v1h-1zM190 227h2v1h-2zM236 227h1v1h-1zM263 227h1v1h-1zM283 227h1v1h-1zM300 227h1v1h-1zM317 227h1v1h-1zM337 227h1v1h-1zM364 227h1v1h-1zM407 227h1v1h-1zM410 227h1v1h-1zM476 227h1v1h-1zM536 227h3v1h-3zM541 227h1v1h-1zM57 228h1v1h-1zM65 228h4v1h-4zM124 228h1v1h-1zM190 228h3v1h-3zM237 228h1v1h-1zM264 228h1v1h-1zM283 228h1v1h-1zM295 228h9v1h-9zM317 228h1v1h-1zM336 228h1v1h-1zM363 228h1v1h-1zM408 228h2v1h-2zM476 228h1v1h-1zM532 228h4v1h-4zM541 228h1v1h-1zM57 229h1v1h-1zM69 229h4v1h-4zM123 229h1v1h-1zM190 229h1v1h-1zM193 229h2v1h-2zM238 229h1v1h-1zM264 229h1v1h-1zM284 229h1v1h-1zM287 229h8v1h-8zM300 229h1v1h-1zM304 229h8v1h-8zM316 229h1v1h-1zM336 229h1v1h-1zM362 229h1v1h-1zM406 229h3v1h-3zM477 229h1v1h-1zM528 229h4v1h-4zM541 229h1v1h-1zM57 230h1v1h-1zM73 230h4v1h-4zM123 230h1v1h-1zM189 230h1v1h-1zM195 230h2v1h-2zM239 230h1v1h-1zM265 230h1v1h-1zM283 230h4v1h-4zM300 230h1v1h-1zM312 230h5v1h-5zM335 230h1v1h-1zM361 230h1v1h-1zM404 230h2v1h-2zM409 230h1v1h-1zM477 230h1v1h-1zM524 230h4v1h-4zM541 230h1v1h-1zM56 231h1v1h-1zM77 231h3v1h-3zM123 231h1v1h-1zM189 231h1v1h-1zM197 231h1v1h-1zM240 231h1v1h-1zM266 231h1v1h-1zM280 231h3v1h-3zM284 231h1v1h-1zM300 231h1v1h-1zM316 231h3v1h-3zM334 231h1v1h-1zM360 231h1v1h-1zM403 231h1v1h-1zM409 231h1v1h-1zM477 231h1v1h-1zM521 231h3v1h-3zM542 231h1v1h-1zM56 232h1v1h-1zM80 232h4v1h-4zM122 232h1v1h-1zM188 232h1v1h-1zM198 232h2v1h-2zM241 232h1v1h-1zM266 232h1v1h-1zM277 232h3v1h-3zM300 232h1v1h-1zM319 232h3v1h-3zM334 232h1v1h-1zM359 232h1v1h-1zM401 232h2v1h-2zM410 232h1v1h-1zM478 232h1v1h-1zM517 232h4v1h-4zM542 232h1v1h-1zM56 233h1v1h-1zM84 233h4v1h-4zM122 233h1v1h-1zM188 233h1v1h-1zM200 233h2v1h-2zM242 233h1v1h-1zM267 233h1v1h-1zM275 233h2v1h-2zM300 233h1v1h-1zM322 233h2v1h-2zM333 233h1v1h-1zM358 233h1v1h-1zM399 233h2v1h-2zM410 233h1v1h-1zM478 233h1v1h-1zM513 233h4v1h-4zM542 233h1v1h-1zM56 234h1v1h-1zM88 234h4v1h-4zM122 234h1v1h-1zM187 234h1v1h-1zM202 234h2v1h-2zM243 234h1v1h-1zM267 234h1v1h-1zM273 234h2v1h-2zM300 234h1v1h-1zM324 234h2v1h-2zM333 234h1v1h-1zM357 234h1v1h-1zM397 234h2v1h-2zM411 234h1v1h-1zM478 234h1v1h-1zM509 234h4v1h-4zM542 234h1v1h-1zM55 235h1v1h-1zM92 235h3v1h-3zM121 235h1v1h-1zM187 235h1v1h-1zM204 235h1v1h-1zM244 235h1v1h-1zM268 235h1v1h-1zM271 235h2v1h-2zM300 235h1v1h-1zM326 235h2v1h-2zM332 235h1v1h-1zM356 235h1v1h-1zM396 235h1v1h-1zM411 235h1v1h-1zM479 235h1v1h-1zM506 235h3v1h-3zM543 235h1v1h-1zM55 236h1v1h-1zM95 236h4v1h-4zM121 236h1v1h-1zM186 236h1v1h-1zM205 236h2v1h-2zM245 236h1v1h-1zM269 236h2v1h-2zM300 236h1v1h-1zM328 236h2v1h-2zM331 236h1v1h-1zM355 236h1v1h-1zM394 236h2v1h-2zM412 236h1v1h-1zM479 236h1v1h-1zM502 236h4v1h-4zM543 236h1v1h-1zM55 237h1v1h-1zM99 237h4v1h-4zM121 237h1v1h-1zM186 237h1v1h-1zM207 237h2v1h-2zM246 237h1v1h-1zM267 237h3v1h-3zM300 237h1v1h-1zM330 237h2v1h-2zM354 237h1v1h-1zM392 237h2v1h-2zM412 237h1v1h-1zM479 237h1v1h-1zM498 237h4v1h-4zM543 237h1v1h-1zM55 238h1v1h-1zM103 238h3v1h-3zM120 238h1v1h-1zM185 238h1v1h-1zM209 238h1v1h-1zM247 238h1v1h-1zM266 238h1v1h-1zM300 238h1v1h-1zM332 238h1v1h-1zM353 238h1v1h-1zM391 238h1v1h-1zM413 238h1v1h-1zM480 238h1v1h-1zM495 238h3v1h-3zM543 238h1v1h-1zM55 239h1v1h-1zM106 239h4v1h-4zM120 239h1v1h-1zM185 239h1v1h-1zM210 239h2v1h-2zM248 239h1v1h-1zM264 239h2v1h-2zM300 239h1v1h-1zM333 239h2v1h-2zM352 239h1v1h-1zM389 239h2v1h-2zM413 239h1v1h-1zM480 239h1v1h-1zM491 239h4v1h-4zM543 239h1v1h-1zM54 240h1v1h-1zM110 240h4v1h-4zM120 240h1v1h-1zM184 240h1v1h-1zM212 240h2v1h-2zM249 240h1v1h-1zM263 240h1v1h-1zM300 240h1v1h-1zM335 240h1v1h-1zM351 240h1v1h-1zM387 240h2v1h-2zM414 240h1v1h-1zM480 240h1v1h-1zM487 240h4v1h-4zM544 240h1v1h-1zM54 241h1v1h-1zM114 241h4v1h-4zM120 241h1v1h-1zM184 241h1v1h-1zM214 241h2v1h-2zM250 241h1v1h-1zM261 241h2v1h-2zM300 241h1v1h-1zM336 241h2v1h-2zM350 241h1v1h-1zM385 241h2v1h-2zM414 241h1v1h-1zM480 241h1v1h-1zM483 241h4v1h-4zM544 241h1v1h-1zM54 242h1v1h-1zM118 242h3v1h-3zM184 242h1v1h-1zM216 242h1v1h-1zM251 242h1v1h-1zM260 242h1v1h-1zM300 242h1v1h-1zM338 242h1v1h-1zM349 242h1v1h-1zM384 242h1v1h-1zM414 242h1v1h-1zM480 242h3v1h-3zM544 242h1v1h-1zM54 243h1v1h-1zM119 243h1v1h-1zM121 243h4v1h-4zM183 243h1v1h-1zM217 243h2v1h-2zM252 243h1v1h-1zM259 243h1v1h-1zM300 243h1v1h-1zM339 243h1v1h-1zM348 243h1v1h-1zM382 243h2v1h-2zM415 243h1v1h-1zM476 243h4v1h-4zM481 243h1v1h-1zM544 243h1v1h-1zM54 244h1v1h-1zM119 244h1v1h-1zM125 244h4v1h-4zM183 244h1v1h-1zM219 244h2v1h-2zM253 244h1v1h-1zM258 244h1v1h-1zM300 244h1v1h-1zM340 244h1v1h-1zM347 244h1v1h-1zM380 244h2v1h-2zM415 244h1v1h-1zM472 244h4v1h-4zM481 244h1v1h-1zM544 244h1v1h-1zM53 245h1v1h-1zM119 245h1v1h-1zM129 245h4v1h-4zM182 245h1v1h-1zM221 245h2v1h-2zM254 245h1v1h-1zM257 245h1v1h-1zM300 245h1v1h-1zM341 245h1v1h-1zM346 245h1v1h-1zM378 245h2v1h-2zM416 245h1v1h-1zM468 245h4v1h-4zM481 245h1v1h-1zM545 245h1v1h-1zM53 246h1v1h-1zM118 246h1v1h-1zM133 246h3v1h-3zM182 246h1v1h-1zM223 246h1v1h-1zM255 246h2v1h-2zM300 246h1v1h-1zM342 246h1v1h-1zM345 246h1v1h-1zM377 246h1v1h-1zM416 246h1v1h-1zM465 246h3v1h-3zM482 246h1v1h-1zM545 246h1v1h-1zM53 247h1v1h-1zM118 247h1v1h-1zM136 247h4v1h-4zM182 247h1v1h-1zM224 247h2v1h-2zM255 247h2v1h-2zM300 247h1v1h-1zM343 247h2v1h-2zM375 247h2v1h-2zM416 247h1v1h-1zM461 247h4v1h-4zM482 247h1v1h-1zM545 247h1v1h-1zM53 248h1v1h-1zM118 248h1v1h-1zM140 248h4v1h-4zM181 248h1v1h-1zM226 248h2v1h-2zM254 248h1v1h-1zM300 248h1v1h-1zM344 248h1v1h-1zM373 248h2v1h-2zM417 248h1v1h-1zM457 248h4v1h-4zM482 248h1v1h-1zM545 248h1v1h-1zM53 249h1v1h-1zM118 249h1v1h-1zM144 249h3v1h-3zM181 249h1v1h-1zM228 249h1v1h-1zM253 249h1v1h-1zM300 249h1v1h-1zM345 249h1v1h-1zM372 249h1v1h-1zM417 249h1v1h-1zM454 249h3v1h-3zM482 249h1v1h-1zM545 249h1v1h-1zM53 250h1v1h-1zM117 250h1v1h-1zM147 250h4v1h-4zM181 250h1v1h-1zM229 250h2v1h-2zM252 250h1v1h-1zM300 250h1v1h-1zM346 250h1v1h-1zM370 250h2v1h-2zM417 250h1v1h-1zM450 250h4v1h-4zM483 250h1v1h-1zM545 250h1v1h-1zM52 251h1v1h-1zM117 251h1v1h-1zM151 251h4v1h-4zM180 251h1v1h-1zM231 251h2v1h-2zM251 251h1v1h-1zM300 251h1v1h-1zM347 251h1v1h-1zM368 251h2v1h-2zM418 251h1v1h-1zM446 251h4v1h-4zM483 251h1v1h-1zM546 251h1v1h-1zM52 252h1v1h-1zM117 252h1v1h-1zM155 252h4v1h-4zM180 252h1v1h-1zM233 252h2v1h-2zM250 252h1v1h-1zM300 252h1v1h-1zM348 252h1v1h-1zM366 252h2v1h-2zM418 252h1v1h-1zM442 252h4v1h-4zM483 252h1v1h-1zM546 252h1v1h-1zM52 253h1v1h-1zM117 253h1v1h-1zM159 253h3v1h-3zM180 253h1v1h-1zM235 253h1v1h-1zM250 253h1v1h-1zM300 253h1v1h-1zM348 253h1v1h-1zM365 253h1v1h-1zM418 253h1v1h-1zM439 253h3v1h-3zM483 253h1v1h-1zM546 253h1v1h-1zM52 254h1v1h-1zM116 254h1v1h-1zM162 254h4v1h-4zM179 254h1v1h-1zM236 254h2v1h-2zM249 254h1v1h-1zM300 254h1v1h-1zM349 254h1v1h-1zM363 254h2v1h-2zM419 254h1v1h-1zM435 254h4v1h-4zM484 254h1v1h-1zM546 254h1v1h-1zM52 255h1v1h-1zM116 255h1v1h-1zM166 255h4v1h-4zM179 255h1v1h-1zM238 255h2v1h-2zM248 255h1v1h-1zM300 255h1v1h-1zM350 255h1v1h-1zM361 255h2v1h-2zM419 255h1v1h-1zM431 255h4v1h-4zM484 255h1v1h-1zM546 255h1v1h-1zM52 256h1v1h-1zM116 256h1v1h-1zM170 256h4v1h-4zM179 256h1v1h-1zM240 256h2v1h-2zM248 256h1v1h-1zM300 256h1v1h-1zM350 256h1v1h-1zM359 256h2v1h-2zM419 256h1v1h-1zM427 256h4v1h-4zM484 256h1v1h-1zM546 256h1v1h-1zM51 257h1v1h-1zM116 257h1v1h-1zM174 257h3v1h-3zM178 257h1v1h-1zM242 257h1v1h-1zM247 257h1v1h-1zM300 257h1v1h-1zM351 257h1v1h-1zM358 257h1v1h-1zM420 257h1v1h-1zM424 257h3v1h-3zM484 257h1v1h-1zM547 257h1v1h-1zM51 258h1v1h-1zM116 258h1v1h-1zM177 258h4v1h-4zM243 258h2v1h-2zM246 258h1v1h-1zM300 258h1v1h-1zM352 258h1v1h-1zM356 258h2v1h-2zM420 258h4v1h-4zM484 258h1v1h-1zM547 258h1v1h-1zM51 259h1v1h-1zM116 259h1v1h-1zM178 259h1v1h-1zM181 259h4v1h-4zM245 259h2v1h-2zM300 259h1v1h-1zM352 259h1v1h-1zM354 259h2v1h-2zM416 259h5v1h-5zM484 259h1v1h-1zM547 259h1v1h-1zM51 260h1v1h-1zM115 260h1v1h-1zM178 260h1v1h-1zM185 260h4v1h-4zM245 260h1v1h-1zM300 260h1v1h-1zM353 260h1v1h-1zM412 260h4v1h-4zM420 260h1v1h-1zM485 260h1v1h-1zM547 260h1v1h-1zM51 261h1v1h-1zM115 261h1v1h-1zM177 261h1v1h-1zM189 261h3v1h-3zM245 261h1v1h-1zM300 261h1v1h-1zM353 261h1v1h-1zM409 261h3v1h-3zM421 261h1v1h-1zM485 261h1v1h-1zM547 261h1v1h-1zM51 262h1v1h-1zM115 262h1v1h-1zM177 262h1v1h-1zM192 262h4v1h-4zM244 262h1v1h-1zM300 262h1v1h-1zM354 262h1v1h-1zM405 262h4v1h-4zM421 262h1v1h-1zM485 262h1v1h-1zM547 262h1v1h-1zM51 263h1v1h-1zM115 263h1v1h-1zM177 263h1v1h-1zM196 263h4v1h-4zM244 263h1v1h-1zM300 263h1v1h-1zM354 263h1v1h-1zM401 263h4v1h-4zM421 263h1v1h-1zM485 263h1v1h-1zM547 263h1v1h-1zM51 264h1v1h-1zM115 264h1v1h-1zM177 264h1v1h-1zM200 264h3v1h-3zM243 264h1v1h-1zM300 264h1v1h-1zM355 264h1v1h-1zM398 264h3v1h-3zM421 264h1v1h-1zM485 264h1v1h-1zM547 264h1v1h-1zM51 265h1v1h-1zM115 265h1v1h-1zM177 265h1v1h-1zM203 265h4v1h-4zM243 265h1v1h-1zM300 265h1v1h-1zM355 265h1v1h-1zM394 265h4v1h-4zM421 265h1v1h-1zM485 265h1v1h-1zM547 265h1v1h-1zM50 266h1v1h-1zM115 266h1v1h-1zM176 266h1v1h-1zM207 266h4v1h-4zM242 266h1v1h-1zM300 266h1v1h-1zM356 266h1v1h-1zM390 266h4v1h-4zM422 266h1v1h-1zM485 266h1v1h-1zM548 266h1v1h-1zM50 267h1v1h-1zM114 267h1v1h-1zM176 267h1v1h-1zM211 267h4v1h-4zM242 267h1v1h-1zM300 267h1v1h-1zM356 267h1v1h-1zM386 267h4v1h-4zM422 267h1v1h-1zM486 267h1v1h-1zM548 267h1v1h-1zM50 268h1v1h-1zM114 268h1v1h-1zM176 268h1v1h-1zM215 268h3v1h-3zM241 268h1v1h-1zM300 268h1v1h-1zM357 268h1v1h-1zM383 268h3v1h-3zM422 268h1v1h-1zM486 268h1v1h-1zM548 268h1v1h-1zM50 269h1v1h-1zM114 269h1v1h-1zM176 269h1v1h-1zM218 269h4v1h-4zM241 269h1v1h-1zM300 269h1v1h-1zM357 269h1v1h-1zM379 269h4v1h-4zM422 269h1v1h-1zM486 269h1v1h-1zM548 269h1v1h-1zM50 270h1v1h-1zM114 270h1v1h-1zM176 270h1v1h-1zM222 270h4v1h-4zM241 270h1v1h-1zM300 270h1v1h-1zM357 270h1v1h-1zM375 270h4v1h-4zM422 270h1v1h-1zM486 270h1v1h-1zM548 270h1v1h-1zM50 271h1v1h-1zM114 271h1v1h-1zM175 271h1v1h-1zM226 271h4v1h-4zM240 271h1v1h-1zM300 271h1v1h-1zM358 271h1v1h-1zM371 271h4v1h-4zM423 271h1v1h-1zM486 271h1v1h-1zM548 271h1v1h-1zM50 272h1v1h-1zM114 272h1v1h-1zM175 272h1v1h-1zM230 272h3v1h-3zM240 272h1v1h-1zM300 272h1v1h-1zM358 272h1v1h-1zM368 272h3v1h-3zM423 272h1v1h-1zM486 272h1v1h-1zM548 272h1v1h-1zM50 273h1v1h-1zM114 273h1v1h-1zM175 273h1v1h-1zM233 273h4v1h-4zM240 273h1v1h-1zM300 273h1v1h-1zM358 273h1v1h-1zM364 273h4v1h-4zM423 273h1v1h-1zM486 273h1v1h-1zM548 273h1v1h-1zM50 274h1v1h-1zM114 274h1v1h-1zM175 274h1v1h-1zM237 274h4v1h-4zM300 274h1v1h-1zM359 274h5v1h-5zM423 274h1v1h-1zM486 274h1v1h-1zM548 274h1v1h-1zM50 275h1v1h-1zM114 275h1v1h-1zM175 275h1v1h-1zM239 275h1v1h-1zM300 275h1v1h-1zM359 275h1v1h-1zM423 275h1v1h-1zM486 275h1v1h-1zM548 275h1v1h-1zM50 276h1v1h-1zM113 276h1v1h-1zM175 276h1v1h-1zM239 276h1v1h-1zM300 276h1v1h-1zM359 276h1v1h-1zM423 276h1v1h-1zM487 276h1v1h-1zM548 276h1v1h-1zM50 277h1v1h-1zM113 277h1v1h-1zM175 277h1v1h-1zM239 277h1v1h-1zM300 277h1v1h-1zM359 277h1v1h-1zM423 277h1v1h-1zM487 277h1v1h-1zM548 277h1v1h-1zM50 278h1v1h-1zM113 278h1v1h-1zM175 278h1v1h-1zM238 278h1v1h-1zM300 278h1v1h-1zM360 278h1v1h-1zM423 278h1v1h-1zM487 278h1v1h-1zM548 278h1v1h-1zM50 279h1v1h-1zM113 279h1v1h-1zM174 279h1v1h-1zM238 279h1v1h-1zM300 279h1v1h-1zM360 279h1v1h-1zM424 279h1v1h-1zM487 279h1v1h-1zM548 279h1v1h-1zM50 280h1v1h-1zM113 280h1v1h-1zM174 280h1v1h-1zM238 280h1v1h-1zM300 280h1v1h-1zM360 280h1v1h-1zM424 280h1v1h-1zM487 280h1v1h-1zM548 280h1v1h-1zM49 281h1v1h-1zM113 281h1v1h-1zM174 281h1v1h-1zM238 281h1v1h-1zM300 281h1v1h-1zM360 281h1v1h-1zM424 281h1v1h-1zM487 281h1v1h-1zM549 281h1v1h-1zM49 282h1v1h-1zM113 282h1v1h-1zM174 282h1v1h-1zM238 282h1v1h-1zM300 282h1v1h-1zM360 282h1v1h-1zM424 282h1v1h-1zM487 282h1v1h-1zM549 282h1v1h-1zM49 283h1v1h-1zM113 283h1v1h-1zM174 283h1v1h-1zM238 283h1v1h-1zM300 283h1v1h-1zM360 283h1v1h-1zM424 283h1v1h-1zM487 283h1v1h-1zM549 283h1v1h-1zM49 284h1v1h-1zM113 284h1v1h-1zM174 284h1v1h-1zM238 284h1v1h-1zM300 284h1v1h-1zM360 284h1v1h-1zM424 284h1v1h-1zM487 284h1v1h-1zM549 284h1v1h-1zM49 285h1v1h-1zM113 285h1v1h-1zM174 285h1v1h-1zM238 285h1v1h-1zM300 285h1v1h-1zM360 285h1v1h-1zM424 285h1v1h-1zM487 285h1v1h-1zM549 285h1v1h-1zM49 286h1v1h-1zM113 286h1v1h-1zM174 286h1v1h-1zM237 286h1v1h-1zM300 286h1v1h-1zM361 286h1v1h-1zM424 286h1v1h-1zM487 286h1v1h-1zM549 286h1v1h-1zM49 287h1v1h-1zM113 287h1v1h-1zM174 287h1v1h-1zM237 287h1v1h-1zM300 287h1v1h-1zM361 287h1v1h-1zM424 287h1v1h-1zM487 287h1v1h-1zM549 287h1v1h-1zM49 288h1v1h-1zM113 288h1v1h-1zM174 288h1v1h-1zM237 288h1v1h-1zM300 288h1v1h-1zM361 288h1v1h-1zM424 288h1v1h-1zM487 288h1v1h-1zM549 288h1v1h-1zM49 289h1v1h-1zM113 289h1v1h-1zM174 289h1v1h-1zM237 289h1v1h-1zM300 289h1v1h-1zM361 289h1v1h-1zM424 289h1v1h-1zM487 289h1v1h-1zM549 289h1v1h-1zM49 290h1v1h-1zM113 290h1v1h-1zM174 290h1v1h-1zM237 290h1v1h-1zM300 290h1v1h-1zM361 290h1v1h-1zM424 290h1v1h-1zM487 290h1v1h-1zM549 290h1v1h-1zM49 291h501v1h-501zM49 292h1v1h-1zM113 292h1v1h-1zM174 292h1v1h-1zM237 292h1v1h-1zM300 292h1v1h-1zM361 292h1v1h-1zM424 292h1v1h-1zM487 292h1v1h-1zM549 292h1v1h-1zM49 293h1v1h-1zM113 293h1v1h-1zM174 293h1v1h-1zM237 293h1v1h-1zM300 293h1v1h-1zM361 293h1v1h-1zM424 293h1v1h-1zM487 293h1v1h-1zM549 293h1v1h-1zM49 294h1v1h-1zM113 294h1v1h-1zM174 294h1v1h-1zM237 294h1v1h-1zM300 294h1v1h-1zM361 294h1v1h-1zM424 294h1v1h-1zM487 294h1v1h-1zM549 294h1v1h-1zM49 295h1v1h-1zM113 295h1v1h-1zM174 295h1v1h-1zM238 295h1v1h-1zM300 295h1v1h-1zM360 295h1v1h-1zM424 295h1v1h-1zM487 295h1v1h-1zM549 295h1v1h-1zM49 296h1v1h-1zM113 296h1v1h-1zM174 296h1v1h-1zM238 296h1v1h-1zM300 296h1v1h-1zM360 296h1v1h-1zM424 296h1v1h-1zM487 296h1v1h-1zM549 296h1v1h-1zM49 297h1v1h-1zM113 297h1v1h-1zM174 297h1v1h-1zM238 297h1v1h-1zM300 297h1v1h-1zM360 297h1v1h-1zM424 297h1v1h-1zM487 297h1v1h-1zM549 297h1v1h-1zM49 298h1v1h-1zM113 298h1v1h-1zM174 298h1v1h-1zM238 298h1v1h-1zM300 298h1v1h-1zM360 298h1v1h-1zM424 298h1v1h-1zM487 298h1v1h-1zM549 298h1v1h-1zM49 299h1v1h-1zM113 299h1v1h-1zM174 299h1v1h-1zM238 299h1v1h-1zM300 299h1v1h-1zM360 299h1v1h-1zM424 299h1v1h-1zM487 299h1v1h-1zM549 299h1v1h-1zM50 300h1v1h-1zM113 300h1v1h-1zM174 300h1v1h-1zM238 300h1v1h-1zM300 300h1v1h-1zM360 300h1v1h-1zM424 300h1v1h-1zM487 300h1v1h-1zM548 300h1v1h-1zM50 301h1v1h-1zM113 301h1v1h-1zM174 301h1v1h-1zM238 301h1v1h-1zM300 301h1v1h-1zM360 301h1v1h-1zM424 301h1v1h-1zM487 301h1v1h-1zM548 301h1v1h-1zM50 302h1v1h-1zM113 302h1v1h-1zM175 302h1v1h-1zM238 302h1v1h-1zM300 302h1v1h-1zM360 302h1v1h-1zM423 302h1v1h-1zM487 302h1v1h-1zM548 302h1v1h-1zM50 303h1v1h-1zM113 303h1v1h-1zM175 303h1v1h-1zM239 303h1v1h-1zM300 303h1v1h-1zM359 303h1v1h-1zM423 303h1v1h-1zM487 303h1v1h-1zM548 303h1v1h-1zM50 304h1v1h-1zM113 304h1v1h-1zM175 304h1v1h-1zM239 304h1v1h-1zM300 304h1v1h-1zM359 304h1v1h-1zM423 304h1v1h-1zM487 304h1v1h-1zM548 304h1v1h-1zM50 305h1v1h-1zM113 305h1v1h-1zM175 305h1v1h-1zM239 305h1v1h-1zM300 305h1v1h-1zM359 305h1v1h-1zM423 305h1v1h-1zM487 305h1v1h-1zM548 305h1v1h-1zM50 306h1v1h-1zM114 306h1v1h-1zM175 306h1v1h-1zM239 306h1v1h-1zM300 306h1v1h-1zM359 306h1v1h-1zM423 306h1v1h-1zM486 306h1v1h-1zM548 306h1v1h-1zM50 307h1v1h-1zM114 307h1v1h-1zM175 307h1v1h-1zM237 307h4v1h-4zM300 307h1v1h-1zM358 307h1v1h-1zM360 307h4v1h-4zM423 307h1v1h-1zM486 307h1v1h-1zM548 307h1v1h-1zM50 308h1v1h-1zM114 308h1v1h-1zM175 308h1v1h-1zM233 308h4v1h-4zM240 308h1v1h-1zM300 308h1v1h-1zM358 308h1v1h-1zM364 308h4v1h-4zM423 308h1v1h-1zM486 308h1v1h-1zM548 308h1v1h-1zM50 309h1v1h-1zM114 309h1v1h-1zM175 309h1v1h-1zM230 309h3v1h-3zM240 309h1v1h-1zM300 309h1v1h-1zM358 309h1v1h-1zM368 309h3v1h-3zM423 309h1v1h-1zM486 309h1v1h-1zM548 309h1v1h-1zM50 310h1v1h-1zM114 310h1v1h-1zM176 310h1v1h-1zM226 310h4v1h-4zM241 310h1v1h-1zM300 310h1v1h-1zM357 310h1v1h-1zM371 310h4v1h-4zM422 310h1v1h-1zM486 310h1v1h-1zM548 310h1v1h-1zM50 311h1v1h-1zM114 311h1v1h-1zM176 311h1v1h-1zM222 311h4v1h-4zM241 311h1v1h-1zM300 311h1v1h-1zM357 311h1v1h-1zM375 311h4v1h-4zM422 311h1v1h-1zM486 311h1v1h-1zM548 311h1v1h-1zM50 312h1v1h-1zM114 312h1v1h-1zM176 312h1v1h-1zM218 312h4v1h-4zM241 312h1v1h-1zM300 312h1v1h-1zM357 312h1v1h-1zM379 312h4v1h-4zM422 312h1v1h-1zM486 312h1v1h-1zM548 312h1v1h-1zM50 313h1v1h-1zM114 313h1v1h-1zM176 313h1v1h-1zM215 313h3v1h-3zM242 313h1v1h-1zM300 313h1v1h-1zM356 313h1v1h-1zM383 313h3v1h-3zM422 313h1v1h-1zM486 313h1v1h-1zM548 313h1v1h-1zM50 314h1v1h-1zM114 314h1v1h-1zM176 314h1v1h-1zM211 314h4v1h-4zM242 314h1v1h-1zM300 314h1v1h-1zM356 314h1v1h-1zM386 314h4v1h-4zM422 314h1v1h-1zM486 314h1v1h-1zM548 314h1v1h-1zM51 315h1v1h-1zM115 315h1v1h-1zM177 315h1v1h-1zM207 315h4v1h-4zM243 315h1v1h-1zM300 315h1v1h-1zM355 315h1v1h-1zM390 315h4v1h-4zM421 315h1v1h-1zM485 315h1v1h-1zM547 315h1v1h-1zM51 316h1v1h-1zM115 316h1v1h-1zM177 316h1v1h-1zM203 316h4v1h-4zM243 316h1v1h-1zM300 316h1v1h-1zM355 316h1v1h-1zM394 316h4v1h-4zM421 316h1v1h-1zM485 316h1v1h-1zM547 316h1v1h-1zM51 317h1v1h-1zM115 317h1v1h-1zM177 317h1v1h-1zM200 317h3v1h-3zM244 317h1v1h-1zM300 317h1v1h-1zM354 317h1v1h-1zM398 317h3v1h-3zM421 317h1v1h-1zM485 317h1v1h-1zM547 317h1v1h-1zM51 318h1v1h-1zM115 318h1v1h-1zM177 318h1v1h-1zM196 318h4v1h-4zM244 318h1v1h-1zM300 318h1v1h-1zM354 318h1v1h-1zM401 318h4v1h-4zM421 318h1v1h-1zM485 318h1v1h-1zM547 318h1v1h-1zM51 319h1v1h-1zM115 319h1v1h-1zM177 319h1v1h-1zM192 319h4v1h-4zM245 319h1v1h-1zM300 319h1v1h-1zM353 319h1v1h-1zM405 319h4v1h-4zM421 319h1v1h-1zM485 319h1v1h-1zM547 319h1v1h-1zM51 320h1v1h-1zM115 320h1v1h-1zM178 320h1v1h-1zM189 320h3v1h-3zM245 320h1v1h-1zM300 320h1v1h-1zM353 320h1v1h-1zM409 320h3v1h-3zM420 320h1v1h-1zM485 320h1v1h-1zM547 320h1v1h-1zM51 321h1v1h-1zM115 321h1v1h-1zM178 321h1v1h-1zM185 321h4v1h-4zM246 321h1v1h-1zM300 321h1v1h-1zM352 321h1v1h-1zM412 321h4v1h-4zM420 321h1v1h-1zM485 321h1v1h-1zM547 321h1v1h-1zM51 322h1v1h-1zM116 322h1v1h-1zM178 322h1v1h-1zM181 322h4v1h-4zM245 322h2v1h-2zM300 322h1v1h-1zM352 322h1v1h-1zM354 322h2v1h-2zM416 322h5v1h-5zM484 322h1v1h-1zM547 322h1v1h-1zM51 323h1v1h-1zM116 323h1v1h-1zM177 323h4v1h-4zM243 323h2v1h-2zM247 323h1v1h-1zM300 323h1v1h-1zM351 323h1v1h-1zM356 323h2v1h-2zM420 323h4v1h-4zM484 323h1v1h-1zM547 323h1v1h-1zM52 324h1v1h-1zM116 324h1v1h-1zM174 324h3v1h-3zM179 324h1v1h-1zM242 324h1v1h-1zM248 324h1v1h-1zM300 324h1v1h-1zM350 324h1v1h-1zM358 324h1v1h-1zM419 324h1v1h-1zM424 324h3v1h-3zM484 324h1v1h-1zM546 324h1v1h-1zM52 325h1v1h-1zM116 325h1v1h-1zM170 325h4v1h-4zM179 325h1v1h-1zM240 325h2v1h-2zM248 325h1v1h-1zM300 325h1v1h-1zM350 325h1v1h-1zM359 325h2v1h-2zM419 325h1v1h-1zM427 325h4v1h-4zM484 325h1v1h-1zM546 325h1v1h-1zM52 326h1v1h-1zM116 326h1v1h-1zM166 326h4v1h-4zM179 326h1v1h-1zM238 326h2v1h-2zM249 326h1v1h-1zM300 326h1v1h-1zM349 326h1v1h-1zM361 326h2v1h-2zM419 326h1v1h-1zM431 326h4v1h-4zM484 326h1v1h-1zM546 326h1v1h-1zM52 327h1v1h-1zM116 327h1v1h-1zM162 327h4v1h-4zM180 327h1v1h-1zM236 327h2v1h-2zM250 327h1v1h-1zM300 327h1v1h-1zM348 327h1v1h-1zM363 327h2v1h-2zM418 327h1v1h-1zM435 327h4v1h-4zM484 327h1v1h-1zM546 327h1v1h-1zM52 328h1v1h-1zM117 328h1v1h-1zM159 328h3v1h-3zM180 328h1v1h-1zM235 328h1v1h-1zM250 328h1v1h-1zM300 328h1v1h-1zM348 328h1v1h-1zM365 328h1v1h-1zM418 328h1v1h-1zM439 328h3v1h-3zM483 328h1v1h-1zM546 328h1v1h-1zM52 329h1v1h-1zM117 329h1v1h-1zM155 329h4v1h-4zM180 329h1v1h-1zM233 329h2v1h-2zM251 329h1v1h-1zM300 329h1v1h-1zM347 329h1v1h-1zM366 329h2v1h-2zM418 329h1v1h-1zM442 329h4v1h-4zM483 329h1v1h-1zM546 329h1v1h-1zM53 330h1v1h-1zM117 330h1v1h-1zM151 330h4v1h-4zM181 330h1v1h-1zM231 330h2v1h-2zM252 330h1v1h-1zM300 330h1v1h-1zM346 330h1v1h-1zM368 330h2v1h-2zM417 330h1v1h-1zM446 330h4v1h-4zM483 330h1v1h-1zM545 330h1v1h-1zM53 331h1v1h-1zM117 331h1v1h-1zM147 331h4v1h-4zM181 331h1v1h-1zM229 331h2v1h-2zM253 331h1v1h-1zM300 331h1v1h-1zM345 331h1v1h-1zM370 331h2v1h-2zM417 331h1v1h-1zM450 331h4v1h-4zM483 331h1v1h-1zM545 331h1v1h-1zM53 332h1v1h-1zM118 332h1v1h-1zM144 332h3v1h-3zM181 332h1v1h-1zM228 332h1v1h-1zM254 332h1v1h-1zM300 332h1v1h-1zM344 332h1v1h-1zM372 332h1v1h-1zM417 332h1v1h-1zM454 332h3v1h-3zM482 332h1v1h-1zM545 332h1v1h-1zM53 333h1v1h-1zM118 333h1v1h-1zM140 333h4v1h-4zM182 333h1v1h-1zM226 333h2v1h-2zM255 333h1v1h-1zM300 333h1v1h-1zM343 333h1v1h-1zM373 333h2v1h-2zM416 333h1v1h-1zM457 333h4v1h-4zM482 333h1v1h-1zM545 333h1v1h-1zM53 334h1v1h-1zM118 334h1v1h-1zM136 334h4v1h-4zM182 334h1v1h-1zM224 334h2v1h-2zM256 334h1v1h-1zM300 334h1v1h-1zM342 334h1v1h-1zM375 334h2v1h-2zM416 334h1v1h-1zM461 334h4v1h-4zM482 334h1v1h-1zM545 334h1v1h-1zM53 335h1v1h-1zM118 335h1v1h-1zM133 335h3v1h-3zM182 335h1v1h-1zM223 335h1v1h-1zM256 335h2v1h-2zM300 335h1v1h-1zM341 335h1v1h-1zM344 335h1v1h-1zM377 335h1v1h-1zM416 335h1v1h-1zM465 335h3v1h-3zM482 335h1v1h-1zM545 335h1v1h-1zM54 336h1v1h-1zM119 336h1v1h-1zM129 336h4v1h-4zM183 336h1v1h-1zM221 336h2v1h-2zM255 336h1v1h-1zM258 336h1v1h-1zM300 336h1v1h-1zM340 336h1v1h-1zM345 336h1v1h-1zM378 336h2v1h-2zM415 336h1v1h-1zM468 336h4v1h-4zM481 336h1v1h-1zM544 336h1v1h-1zM54 337h1v1h-1zM119 337h1v1h-1zM125 337h4v1h-4zM183 337h1v1h-1zM219 337h2v1h-2zM254 337h1v1h-1zM259 337h1v1h-1zM300 337h1v1h-1zM339 337h1v1h-1zM346 337h1v1h-1zM380 337h2v1h-2zM415 337h1v1h-1zM472 337h4v1h-4zM481 337h1v1h-1zM544 337h1v1h-1zM54 338h1v1h-1zM119 338h1v1h-1zM121 338h4v1h-4zM184 338h1v1h-1zM217 338h2v1h-2zM253 338h1v1h-1zM260 338h1v1h-1zM300 338h1v1h-1zM338 338h1v1h-1zM347 338h1v1h-1zM382 338h2v1h-2zM414 338h1v1h-1zM476 338h4v1h-4zM481 338h1v1h-1zM544 338h1v1h-1zM54 339h1v1h-1zM118 339h3v1h-3zM184 339h1v1h-1zM216 339h1v1h-1zM252 339h1v1h-1zM261 339h2v1h-2zM300 339h1v1h-1zM336 339h2v1h-2zM348 339h1v1h-1zM384 339h1v1h-1zM414 339h1v1h-1zM480 339h3v1h-3zM544 339h1v1h-1zM54 340h1v1h-1zM114 340h4v1h-4zM120 340h1v1h-1zM184 340h1v1h-1zM214 340h2v1h-2zM251 340h1v1h-1zM263 340h1v1h-1zM300 340h1v1h-1zM335 340h1v1h-1zM349 340h1v1h-1zM385 340h2v1h-2zM414 340h1v1h-1zM480 340h1v1h-1zM483 340h4v1h-4zM544 340h1v1h-1zM55 341h1v1h-1zM110 341h4v1h-4zM120 341h1v1h-1zM185 341h1v1h-1zM212 341h2v1h-2zM250 341h1v1h-1zM264 341h2v1h-2zM300 341h1v1h-1zM333 341h2v1h-2zM350 341h1v1h-1zM387 341h2v1h-2zM413 341h1v1h-1zM480 341h1v1h-1zM487 341h4v1h-4zM543 341h1v1h-1zM55 342h1v1h-1zM106 342h4v1h-4zM120 342h1v1h-1zM185 342h1v1h-1zM210 342h2v1h-2zM249 342h1v1h-1zM266 342h1v1h-1zM300 342h1v1h-1zM332 342h1v1h-1zM351 342h1v1h-1zM389 342h2v1h-2zM413 342h1v1h-1zM480 342h1v1h-1zM491 342h4v1h-4zM543 342h1v1h-1zM55 343h1v1h-1zM103 343h3v1h-3zM120 343h1v1h-1zM186 343h1v1h-1zM209 343h1v1h-1zM248 343h1v1h-1zM267 343h2v1h-2zM300 343h1v1h-1zM330 343h2v1h-2zM352 343h1v1h-1zM391 343h1v1h-1zM412 343h1v1h-1zM480 343h1v1h-1zM495 343h3v1h-3zM543 343h1v1h-1zM55 344h1v1h-1zM99 344h4v1h-4zM121 344h1v1h-1zM186 344h1v1h-1zM207 344h2v1h-2zM247 344h1v1h-1zM269 344h2v1h-2zM300 344h1v1h-1zM328 344h2v1h-2zM331 344h1v1h-1zM353 344h1v1h-1zM392 344h2v1h-2zM412 344h1v1h-1zM479 344h1v1h-1zM498 344h4v1h-4zM543 344h1v1h-1zM55 345h1v1h-1zM95 345h4v1h-4zM121 345h1v1h-1zM187 345h1v1h-1zM205 345h2v1h-2zM246 345h1v1h-1zM269 345h1v1h-1zM271 345h2v1h-2zM300 345h1v1h-1zM326 345h2v1h-2zM331 345h1v1h-1zM354 345h1v1h-1zM394 345h2v1h-2zM411 345h1v1h-1zM479 345h1v1h-1zM502 345h4v1h-4zM543 345h1v1h-1zM56 346h1v1h-1zM92 346h3v1h-3zM121 346h1v1h-1zM187 346h1v1h-1zM204 346h1v1h-1zM245 346h1v1h-1zM268 346h1v1h-1zM273 346h2v1h-2zM300 346h1v1h-1zM324 346h2v1h-2zM332 346h1v1h-1zM355 346h1v1h-1zM396 346h1v1h-1zM411 346h1v1h-1zM479 346h1v1h-1zM506 346h3v1h-3zM542 346h1v1h-1zM56 347h1v1h-1zM88 347h4v1h-4zM122 347h1v1h-1zM188 347h1v1h-1zM202 347h2v1h-2zM244 347h1v1h-1zM267 347h1v1h-1zM275 347h2v1h-2zM300 347h1v1h-1zM322 347h2v1h-2zM333 347h1v1h-1zM356 347h1v1h-1zM397 347h2v1h-2zM410 347h1v1h-1zM478 347h1v1h-1zM509 347h4v1h-4zM542 347h1v1h-1zM56 348h1v1h-1zM84 348h4v1h-4zM122 348h1v1h-1zM188 348h1v1h-1zM200 348h2v1h-2zM243 348h1v1h-1zM267 348h1v1h-1zM277 348h3v1h-3zM300 348h1v1h-1zM319 348h3v1h-3zM333 348h1v1h-1zM357 348h1v1h-1zM399 348h2v1h-2zM410 348h1v1h-1zM478 348h1v1h-1zM513 348h4v1h-4zM542 348h1v1h-1zM56 349h1v1h-1zM80 349h4v1h-4zM122 349h1v1h-1zM189 349h1v1h-1zM198 349h2v1h-2zM242 349h1v1h-1zM266 349h1v1h-1zM280 349h3v1h-3zM300 349h1v1h-1zM316 349h3v1h-3zM334 349h1v1h-1zM358 349h1v1h-1zM401 349h2v1h-2zM409 349h1v1h-1zM478 349h1v1h-1zM517 349h4v1h-4zM542 349h1v1h-1zM57 350h1v1h-1zM77 350h3v1h-3zM123 350h1v1h-1zM189 350h1v1h-1zM197 350h1v1h-1zM241 350h1v1h-1zM266 350h1v1h-1zM283 350h4v1h-4zM300 350h1v1h-1zM312 350h5v1h-5zM334 350h1v1h-1zM359 350h1v1h-1zM403 350h1v1h-1zM409 350h1v1h-1zM477 350h1v1h-1zM521 350h3v1h-3zM541 350h1v1h-1zM57 351h1v1h-1zM73 351h4v1h-4zM123 351h1v1h-1zM190 351h1v1h-1zM195 351h2v1h-2zM240 351h1v1h-1zM265 351h1v1h-1zM284 351h1v1h-1zM287 351h8v1h-8zM300 351h1v1h-1zM304 351h8v1h-8zM316 351h1v1h-1zM335 351h1v1h-1zM360 351h1v1h-1zM404 351h2v1h-2zM408 351h1v1h-1zM477 351h1v1h-1zM524 351h4v1h-4zM541 351h1v1h-1zM57 352h1v1h-1zM69 352h4v1h-4zM123 352h1v1h-1zM190 352h1v1h-1zM193 352h2v1h-2zM239 352h1v1h-1zM264 352h1v1h-1zM284 352h1v1h-1zM295 352h9v1h-9zM316 352h1v1h-1zM336 352h1v1h-1zM361 352h1v1h-1zM406 352h3v1h-3zM477 352h1v1h-1zM528 352h4v1h-4zM541 352h1v1h-1zM57 353h1v1h-1zM65 353h4v1h-4zM124 353h1v1h-1zM191 353h2v1h-2zM238 353h1v1h-1zM264 353h1v1h-1zM283 353h1v1h-1zM300 353h1v1h-1zM317 353h1v1h-1zM336 353h1v1h-1zM362 353h1v1h-1zM407 353h3v1h-3zM476 353h1v1h-1zM532 353h4v1h-4zM541 353h1v1h-1zM58 354h1v1h-1zM62 354h3v1h-3zM124 354h1v1h-1zM190 354h1v1h-1zM192 354h1v1h-1zM237 354h1v1h-1zM263 354h1v1h-1zM283 354h1v1h-1zM300 354h1v1h-1zM317 354h1v1h-1zM337 354h1v1h-1zM363 354h1v1h-1zM406 354h1v1h-1zM410 354h1v1h-1zM476 354h1v1h-1zM536 354h3v1h-3zM540 354h1v1h-1zM58 355h4v1h-4zM124 355h1v1h-1zM188 355h2v1h-2zM192 355h1v1h-1zM236 355h1v1h-1zM263 355h1v1h-1zM283 355h1v1h-1zM300 355h1v1h-1zM317 355h1v1h-1zM337 355h1v1h-1zM364 355h1v1h-1zM406 355h1v1h-1zM411 355h2v1h-2zM476 355h1v1h-1zM539 355h3v1h-3zM58 356h1v1h-1zM125 356h1v1h-1zM186 356h2v1h-2zM193 356h1v1h-1zM235 356h1v1h-1zM262 356h1v1h-1zM282 356h1v1h-1zM300 356h1v1h-1zM318 356h1v1h-1zM338 356h1v1h-1zM365 356h1v1h-1zM405 356h1v1h-1zM413 356h2v1h-2zM475 356h1v1h-1zM540 356h1v1h-1zM58 357h1v1h-1zM125 357h1v1h-1zM184 357h2v1h-2zM193 357h1v1h-1zM234 357h1v1h-1zM262 357h1v1h-1zM282 357h1v1h-1zM300 357h1v1h-1zM318 357h1v1h-1zM338 357h1v1h-1zM366 357h1v1h-1zM405 357h1v1h-1zM415 357h2v1h-2zM475 357h1v1h-1zM540 357h1v1h-1zM59 358h1v1h-1zM125 358h1v1h-1zM183 358h1v1h-1zM194 358h1v1h-1zM233 358h1v1h-1zM261 358h1v1h-1zM282 358h1v1h-1zM300 358h1v1h-1zM318 358h1v1h-1zM339 358h1v1h-1zM367 358h1v1h-1zM404 358h1v1h-1zM417 358h1v1h-1zM475 358h1v1h-1zM539 358h1v1h-1zM59 359h1v1h-1zM126 359h1v1h-1zM181 359h2v1h-2zM195 359h1v1h-1zM232 359h1v1h-1zM260 359h1v1h-1zM282 359h1v1h-1zM300 359h1v1h-1zM318 359h1v1h-1zM340 359h1v1h-1zM368 359h1v1h-1zM403 359h1v1h-1zM418 359h2v1h-2zM474 359h1v1h-1zM539 359h1v1h-1zM59 360h1v1h-1zM126 360h1v1h-1zM179 360h2v1h-2zM195 360h1v1h-1zM231 360h1v1h-1zM260 360h1v1h-1zM281 360h1v1h-1zM300 360h1v1h-1zM319 360h1v1h-1zM340 360h1v1h-1zM369 360h1v1h-1zM403 360h1v1h-1zM420 360h2v1h-2zM474 360h1v1h-1zM539 360h1v1h-1zM60 361h1v1h-1zM127 361h1v1h-1zM178 361h1v1h-1zM196 361h1v1h-1zM230 361h1v1h-1zM259 361h1v1h-1zM281 361h1v1h-1zM300 361h1v1h-1zM319 361h1v1h-1zM341 361h1v1h-1zM370 361h1v1h-1zM402 361h1v1h-1zM422 361h1v1h-1zM473 361h1v1h-1zM538 361h1v1h-1zM60 362h1v1h-1zM127 362h1v1h-1zM176 362h2v1h-2zM197 362h1v1h-1zM229 362h1v1h-1zM259 362h1v1h-1zM281 362h1v1h-1zM300 362h1v1h-1zM319 362h1v1h-1zM341 362h1v1h-1zM371 362h1v1h-1zM401 362h1v1h-1zM423 362h2v1h-2zM473 362h1v1h-1zM538 362h1v1h-1zM60 363h1v1h-1zM127 363h1v1h-1zM174 363h2v1h-2zM198 363h1v1h-1zM228 363h1v1h-1zM258 363h1v1h-1zM281 363h1v1h-1zM300 363h1v1h-1zM319 363h1v1h-1zM342 363h1v1h-1zM372 363h1v1h-1zM400 363h1v1h-1zM425 363h2v1h-2zM473 363h1v1h-1zM538 363h1v1h-1zM61 364h1v1h-1zM128 364h1v1h-1zM172 364h2v1h-2zM198 364h1v1h-1zM227 364h1v1h-1zM258 364h1v1h-1zM280 364h1v1h-1zM300 364h1v1h-1zM320 364h1v1h-1zM342 364h1v1h-1zM373 364h1v1h-1zM400 364h1v1h-1zM427 364h2v1h-2zM472 364h1v1h-1zM537 364h1v1h-1zM61 365h1v1h-1zM128 365h1v1h-1zM171 365h1v1h-1zM199 365h1v1h-1zM226 365h1v1h-1zM257 365h1v1h-1zM280 365h1v1h-1zM300 365h1v1h-1zM320 365h1v1h-1zM343 365h1v1h-1zM374 365h1v1h-1zM399 365h1v1h-1zM429 365h1v1h-1zM472 365h1v1h-1zM537 365h1v1h-1zM61 366h1v1h-1zM129 366h1v1h-1zM169 366h2v1h-2zM200 366h1v1h-1zM225 366h1v1h-1zM256 366h1v1h-1zM280 366h1v1h-1zM300 366h1v1h-1zM320 366h1v1h-1zM344 366h1v1h-1zM375 366h1v1h-1zM398 366h1v1h-1zM430 366h2v1h-2zM471 366h1v1h-1zM537 366h1v1h-1zM61 367h1v1h-1zM129 367h1v1h-1zM167 367h2v1h-2zM201 367h1v1h-1zM224 367h1v1h-1zM256 367h1v1h-1zM280 367h1v1h-1zM300 367h1v1h-1zM320 367h1v1h-1zM344 367h1v1h-1zM376 367h1v1h-1zM397 367h1v1h-1zM432 367h2v1h-2zM471 367h1v1h-1zM537 367h1v1h-1zM62 368h1v1h-1zM130 368h1v1h-1zM165 368h2v1h-2zM201 368h1v1h-1zM223 368h1v1h-1zM255 368h1v1h-1zM279 368h1v1h-1zM300 368h1v1h-1zM321 368h1v1h-1zM345 368h1v1h-1zM377 368h1v1h-1zM397 368h1v1h-1zM434 368h2v1h-2zM470 368h1v1h-1zM536 368h1v1h-1zM62 369h1v1h-1zM130 369h1v1h-1zM164 369h1v1h-1zM202 369h1v1h-1zM222 369h1v1h-1zM255 369h1v1h-1zM279 369h1v1h-1zM300 369h1v1h-1zM321 369h1v1h-1zM345 369h1v1h-1zM378 369h1v1h-1zM396 369h1v1h-1zM436 369h1v1h-1zM470 369h1v1h-1zM536 369h1v1h-1zM62 370h1v1h-1zM131 370h1v1h-1zM162 370h2v1h-2zM203 370h1v1h-1zM221 370h1v1h-1zM254 370h1v1h-1zM279 370h1v1h-1zM300 370h1v1h-1zM321 370h1v1h-1zM346 370h1v1h-1zM379 370h1v1h-1zM395 370h1v1h-1zM437 370h2v1h-2zM469 370h1v1h-1zM536 370h1v1h-1zM63 371h1v1h-1zM131 371h1v1h-1zM160 371h2v1h-2zM204 371h1v1h-1zM220 371h1v1h-1zM254 371h1v1h-1zM278 371h1v1h-1zM300 371h1v1h-1zM322 371h1v1h-1zM346 371h1v1h-1zM380 371h1v1h-1zM394 371h1v1h-1zM439 371h2v1h-2zM469 371h1v1h-1zM535 371h1v1h-1zM63 372h1v1h-1zM132 372h1v1h-1zM158 372h2v1h-2zM205 372h1v1h-1zM219 372h1v1h-1zM253 372h1v1h-1zM278 372h1v1h-1zM300 372h1v1h-1zM322 372h1v1h-1zM347 372h1v1h-1zM381 372h1v1h-1zM393 372h1v1h-1zM441 372h2v1h-2zM468 372h1v1h-1zM535 372h1v1h-1zM63 373h1v1h-1zM132 373h1v1h-1zM157 373h1v1h-1zM206 373h1v1h-1zM218 373h1v1h-1zM252 373h1v1h-1zM278 373h1v1h-1zM300 373h1v1h-1zM322 373h1v1h-1zM348 373h1v1h-1zM382 373h1v1h-1zM392 373h1v1h-1zM443 373h1v1h-1zM468 373h1v1h-1zM535 373h1v1h-1zM64 374h1v1h-1zM133 374h1v1h-1zM155 374h2v1h-2zM206 374h1v1h-1zM217 374h1v1h-1zM252 374h1v1h-1zM278 374h1v1h-1zM300 374h1v1h-1zM322 374h1v1h-1zM348 374h1v1h-1zM383 374h1v1h-1zM392 374h1v1h-1zM444 374h2v1h-2zM467 374h1v1h-1zM534 374h1v1h-1zM64 375h1v1h-1zM133 375h1v1h-1zM153 375h2v1h-2zM207 375h1v1h-1zM216 375h1v1h-1zM251 375h1v1h-1zM277 375h1v1h-1zM300 375h1v1h-1zM323 375h1v1h-1zM349 375h1v1h-1zM384 375h1v1h-1zM391 375h1v1h-1zM446 375h2v1h-2zM467 375h1v1h-1zM534 375h1v1h-1zM65 376h1v1h-1zM134 376h1v1h-1zM152 376h1v1h-1zM208 376h1v1h-1zM215 376h1v1h-1zM251 376h1v1h-1zM277 376h1v1h-1zM300 376h1v1h-1zM323 376h1v1h-1zM349 376h1v1h-1zM385 376h1v1h-1zM390 376h1v1h-1zM448 376h1v1h-1zM466 376h1v1h-1zM533 376h1v1h-1zM65 377h1v1h-1zM134 377h1v1h-1zM150 377h2v1h-2zM209 377h1v1h-1zM214 377h1v1h-1zM250 377h1v1h-1zM277 377h1v1h-1zM300 377h1v1h-1zM323 377h1v1h-1zM350 377h1v1h-1zM386 377h1v1h-1zM389 377h1v1h-1zM449 377h2v1h-2zM466 377h1v1h-1zM533 377h1v1h-1zM65 378h1v1h-1zM135 378h1v1h-1zM148 378h2v1h-2zM210 378h1v1h-1zM213 378h1v1h-1zM249 378h1v1h-1zM277 378h1v1h-1zM300 378h1v1h-1zM323 378h1v1h-1zM351 378h1v1h-1zM387 378h2v1h-2zM451 378h2v1h-2zM465 378h1v1h-1zM533 378h1v1h-1zM66 379h1v1h-1zM135 379h1v1h-1zM146 379h2v1h-2zM211 379h2v1h-2zM249 379h1v1h-1zM276 379h1v1h-1zM300 379h1v1h-1zM324 379h1v1h-1zM351 379h1v1h-1zM387 379h2v1h-2zM453 379h2v1h-2zM465 379h1v1h-1zM532 379h1v1h-1zM66 380h1v1h-1zM136 380h1v1h-1zM145 380h1v1h-1zM211 380h2v1h-2zM248 380h1v1h-1zM276 380h1v1h-1zM300 380h1v1h-1zM324 380h1v1h-1zM352 380h1v1h-1zM386 380h1v1h-1zM389 380h1v1h-1zM455 380h1v1h-1zM464 380h1v1h-1zM532 380h1v1h-1zM66 381h1v1h-1zM136 381h1v1h-1zM143 381h2v1h-2zM210 381h1v1h-1zM213 381h1v1h-1zM248 381h1v1h-1zM276 381h1v1h-1zM300 381h1v1h-1zM324 381h1v1h-1zM352 381h1v1h-1zM385 381h1v1h-1zM390 381h1v1h-1zM456 381h2v1h-2zM464 381h1v1h-1zM532 381h1v1h-1zM67 382h1v1h-1zM137 382h1v1h-1zM141 382h2v1h-2zM209 382h1v1h-1zM214 382h1v1h-1zM247 382h1v1h-1zM275 382h1v1h-1zM300 382h1v1h-1zM325 382h1v1h-1zM353 382h1v1h-1zM384 382h1v1h-1zM391 382h1v1h-1zM458 382h2v1h-2zM463 382h1v1h-1zM531 382h1v1h-1zM67 383h1v1h-1zM137 383h1v1h-1zM139 383h2v1h-2zM208 383h1v1h-1zM215 383h2v1h-2zM247 383h1v1h-1zM275 383h1v1h-1zM300 383h1v1h-1zM325 383h1v1h-1zM353 383h1v1h-1zM382 383h2v1h-2zM392 383h1v1h-1zM460 383h2v1h-2zM463 383h1v1h-1zM531 383h1v1h-1zM68 384h1v1h-1zM138 384h1v1h-1zM207 384h1v1h-1zM217 384h1v1h-1zM246 384h1v1h-1zM275 384h1v1h-1zM300 384h1v1h-1zM325 384h1v1h-1zM354 384h1v1h-1zM381 384h1v1h-1zM393 384h1v1h-1zM462 384h1v1h-1zM530 384h1v1h-1zM68 385h1v1h-1zM136 385h3v1h-3zM206 385h1v1h-1zM218 385h1v1h-1zM245 385h1v1h-1zM275 385h1v1h-1zM300 385h1v1h-1zM325 385h1v1h-1zM355 385h1v1h-1zM380 385h1v1h-1zM394 385h1v1h-1zM462 385h3v1h-3zM530 385h1v1h-1zM68 386h1v1h-1zM134 386h2v1h-2zM139 386h1v1h-1zM205 386h1v1h-1zM219 386h1v1h-1zM245 386h1v1h-1zM274 386h1v1h-1zM300 386h1v1h-1zM326 386h1v1h-1zM355 386h1v1h-1zM379 386h1v1h-1zM395 386h1v1h-1zM461 386h1v1h-1zM465 386h2v1h-2zM530 386h1v1h-1zM69 387h1v1h-1zM132 387h2v1h-2zM140 387h1v1h-1zM204 387h1v1h-1zM220 387h1v1h-1zM244 387h1v1h-1zM274 387h1v1h-1zM300 387h1v1h-1zM326 387h1v1h-1zM356 387h1v1h-1zM378 387h1v1h-1zM396 387h1v1h-1zM460 387h1v1h-1zM467 387h2v1h-2zM529 387h1v1h-1zM69 388h1v1h-1zM131 388h1v1h-1zM140 388h1v1h-1zM203 388h1v1h-1zM221 388h2v1h-2zM244 388h1v1h-1zM274 388h1v1h-1zM300 388h1v1h-1zM326 388h1v1h-1zM356 388h1v1h-1zM376 388h2v1h-2zM397 388h1v1h-1zM460 388h1v1h-1zM469 388h1v1h-1zM529 388h1v1h-1zM70 389h1v1h-1zM129 389h2v1h-2zM141 389h1v1h-1zM202 389h1v1h-1zM223 389h1v1h-1zM243 389h1v1h-1zM274 389h1v1h-1zM300 389h1v1h-1zM326 389h1v1h-1zM357 389h1v1h-1zM375 389h1v1h-1zM398 389h1v1h-1zM459 389h1v1h-1zM470 389h2v1h-2zM528 389h1v1h-1zM70 390h1v1h-1zM127 390h2v1h-2zM141 390h1v1h-1zM201 390h1v1h-1zM224 390h1v1h-1zM243 390h1v1h-1zM273 390h1v1h-1zM300 390h1v1h-1zM327 390h1v1h-1zM357 390h1v1h-1zM374 390h1v1h-1zM399 390h1v1h-1zM459 390h1v1h-1zM472 390h2v1h-2zM528 390h1v1h-1zM71 391h1v1h-1zM126 391h1v1h-1zM142 391h1v1h-1zM200 391h1v1h-1zM225 391h2v1h-2zM242 391h1v1h-1zM273 391h1v1h-1zM300 391h1v1h-1zM327 391h1v1h-1zM358 391h1v1h-1zM372 391h2v1h-2zM400 391h1v1h-1zM458 391h1v1h-1zM474 391h1v1h-1zM527 391h1v1h-1zM71 392h1v1h-1zM124 392h2v1h-2zM143 392h1v1h-1zM199 392h1v1h-1zM227 392h1v1h-1zM241 392h1v1h-1zM273 392h1v1h-1zM300 392h1v1h-1zM327 392h1v1h-1zM359 392h1v1h-1zM371 392h1v1h-1zM401 392h1v1h-1zM457 392h1v1h-1zM475 392h2v1h-2zM527 392h1v1h-1zM72 393h1v1h-1zM122 393h2v1h-2zM143 393h1v1h-1zM198 393h1v1h-1zM228 393h1v1h-1zM241 393h1v1h-1zM273 393h1v1h-1zM300 393h1v1h-1zM327 393h1v1h-1zM359 393h1v1h-1zM370 393h1v1h-1zM402 393h1v1h-1zM457 393h1v1h-1zM477 393h2v1h-2zM526 393h1v1h-1zM72 394h1v1h-1zM120 394h2v1h-2zM144 394h1v1h-1zM197 394h1v1h-1zM229 394h2v1h-2zM240 394h1v1h-1zM272 394h1v1h-1zM300 394h1v1h-1zM328 394h1v1h-1zM360 394h1v1h-1zM368 394h2v1h-2zM403 394h1v1h-1zM456 394h1v1h-1zM479 394h2v1h-2zM526 394h1v1h-1zM72 395h1v1h-1zM119 395h1v1h-1zM145 395h1v1h-1zM196 395h1v1h-1zM231 395h1v1h-1zM240 395h1v1h-1zM272 395h1v1h-1zM300 395h1v1h-1zM328 395h1v1h-1zM360 395h1v1h-1zM367 395h1v1h-1zM404 395h1v1h-1zM455 395h1v1h-1zM481 395h1v1h-1zM526 395h1v1h-1zM73 396h1v1h-1zM117 396h2v1h-2zM145 396h1v1h-1zM195 396h1v1h-1zM232 396h2v1h-2zM239 396h1v1h-1zM272 396h1v1h-1zM300 396h1v1h-1zM328 396h1v1h-1zM361 396h1v1h-1zM365 396h2v1h-2zM405 396h1v1h-1zM455 396h1v1h-1zM482 396h2v1h-2zM525 396h1v1h-1zM73 397h1v1h-1zM115 397h2v1h-2zM146 397h1v1h-1zM194 397h1v1h-1zM234 397h2v1h-2zM239 397h1v1h-1zM271 397h1v1h-1zM300 397h1v1h-1zM329 397h1v1h-1zM361 397h1v1h-1zM363 397h2v1h-2zM406 397h1v1h-1zM454 397h1v1h-1zM484 397h2v1h-2zM525 397h1v1h-1zM74 398h1v1h-1zM113 398h2v1h-2zM147 398h1v1h-1zM193 398h1v1h-1zM236 398h1v1h-1zM238 398h1v1h-1zM271 398h1v1h-1zM300 398h1v1h-1zM329 398h1v1h-1zM362 398h1v1h-1zM407 398h1v1h-1zM453 398h1v1h-1zM486 398h2v1h-2zM524 398h1v1h-1zM74 399h1v1h-1zM112 399h1v1h-1zM148 399h1v1h-1zM192 399h1v1h-1zM237 399h2v1h-2zM271 399h1v1h-1zM300 399h1v1h-1zM329 399h1v1h-1zM360 399h2v1h-2zM363 399h1v1h-1zM408 399h1v1h-1zM452 399h1v1h-1zM488 399h1v1h-1zM524 399h1v1h-1zM75 400h1v1h-1zM110 400h2v1h-2zM148 400h1v1h-1zM191 400h1v1h-1zM237 400h1v1h-1zM239 400h2v1h-2zM271 400h1v1h-1zM300 400h1v1h-1zM329 400h1v1h-1zM358 400h2v1h-2zM363 400h1v1h-1zM409 400h1v1h-1zM452 400h1v1h-1zM489 400h2v1h-2zM523 400h1v1h-1zM75 401h1v1h-1zM108 401h2v1h-2zM149 401h1v1h-1zM190 401h1v1h-1zM236 401h1v1h-1zM241 401h2v1h-2zM270 401h1v1h-1zM300 401h1v1h-1zM330 401h1v1h-1zM356 401h2v1h-2zM364 401h1v1h-1zM410 401h1v1h-1zM451 401h1v1h-1zM491 401h2v1h-2zM523 401h1v1h-1zM76 402h1v1h-1zM107 402h1v1h-1zM150 402h1v1h-1zM189 402h1v1h-1zM236 402h1v1h-1zM243 402h2v1h-2zM270 402h1v1h-1zM300 402h1v1h-1zM330 402h1v1h-1zM354 402h2v1h-2zM364 402h1v1h-1zM411 402h2v1h-2zM450 402h1v1h-1zM493 402h1v1h-1zM522 402h1v1h-1zM76 403h1v1h-1zM105 403h2v1h-2zM150 403h1v1h-1zM188 403h1v1h-1zM235 403h1v1h-1zM245 403h2v1h-2zM270 403h1v1h-1zM300 403h1v1h-1zM330 403h1v1h-1zM352 403h2v1h-2zM365 403h1v1h-1zM450 403h1v1h-1zM494 403h2v1h-2zM522 403h1v1h-1zM77 404h1v1h-1zM103 404h2v1h-2zM151 404h1v1h-1zM187 404h1v1h-1zM234 404h1v1h-1zM247 404h2v1h-2zM270 404h1v1h-1zM300 404h1v1h-1zM330 404h1v1h-1zM350 404h2v1h-2zM366 404h1v1h-1zM413 404h1v1h-1zM449 404h1v1h-1zM496 404h2v1h-2zM521 404h1v1h-1zM77 405h1v1h-1zM101 405h2v1h-2zM152 405h1v1h-1zM186 405h1v1h-1zM234 405h1v1h-1zM249 405h3v1h-3zM269 405h1v1h-1zM300 405h1v1h-1zM331 405h1v1h-1zM347 405h3v1h-3zM366 405h1v1h-1zM414 405h1v1h-1zM448 405h1v1h-1zM498 405h2v1h-2zM521 405h1v1h-1zM78 406h1v1h-1zM100 406h1v1h-1zM153 406h1v1h-1zM185 406h1v1h-1zM233 406h1v1h-1zM252 406h2v1h-2zM269 406h1v1h-1zM300 406h1v1h-1zM331 406h1v1h-1zM345 406h2v1h-2zM367 406h1v1h-1zM415 406h1v1h-1zM447 406h1v1h-1zM500 406h1v1h-1zM520 406h1v1h-1zM78 407h1v1h-1zM98 407h2v1h-2zM154 407h1v1h-1zM184 407h1v1h-1zM233 407h1v1h-1zM254 407h3v1h-3zM269 407h1v1h-1zM300 407h1v1h-1zM331 407h1v1h-1zM342 407h3v1h-3zM367 407h1v1h-1zM416 407h1v1h-1zM446 407h1v1h-1zM501 407h2v1h-2zM520 407h1v1h-1zM79 408h1v1h-1zM96 408h2v1h-2zM154 408h1v1h-1zM183 408h1v1h-1zM232 408h1v1h-1zM257 408h3v1h-3zM269 408h1v1h-1zM300 408h1v1h-1zM331 408h1v1h-1zM339 408h3v1h-3zM368 408h1v1h-1zM417 408h2v1h-2zM446 408h1v1h-1zM503 408h2v1h-2zM519 408h1v1h-1zM79 409h1v1h-1zM94 409h2v1h-2zM155 409h1v1h-1zM182 409h1v1h-1zM232 409h1v1h-1zM260 409h3v1h-3zM268 409h1v1h-1zM300 409h1v1h-1zM332 409h1v1h-1zM336 409h3v1h-3zM368 409h1v1h-1zM445 409h1v1h-1zM505 409h2v1h-2zM519 409h1v1h-1zM80 410h1v1h-1zM93 410h1v1h-1zM156 410h1v1h-1zM181 410h1v1h-1zM231 410h1v1h-1zM263 410h3v1h-3zM268 410h1v1h-1zM300 410h1v1h-1zM332 410h4v1h-4zM369 410h1v1h-1zM419 410h1v1h-1zM444 410h1v1h-1zM507 410h1v1h-1zM518 410h1v1h-1zM81 411h1v1h-1zM91 411h2v1h-2zM157 411h1v1h-1zM180 411h1v1h-1zM230 411h1v1h-1zM266 411h4v1h-4zM300 411h1v1h-1zM329 411h4v1h-4zM370 411h1v1h-1zM420 411h1v1h-1zM443 411h1v1h-1zM508 411h2v1h-2zM517 411h1v1h-1zM81 412h1v1h-1zM89 412h2v1h-2zM158 412h1v1h-1zM179 412h1v1h-1zM230 412h1v1h-1zM267 412h1v1h-1zM270 412h5v1h-5zM300 412h1v1h-1zM324 412h5v1h-5zM333 412h1v1h-1zM370 412h1v1h-1zM421 412h1v1h-1zM442 412h1v1h-1zM510 412h2v1h-2zM517 412h1v1h-1zM82 413h1v1h-1zM87 413h2v1h-2zM158 413h1v1h-1zM178 413h1v1h-1zM229 413h1v1h-1zM267 413h1v1h-1zM275 413h5v1h-5zM300 413h1v1h-1zM319 413h5v1h-5zM333 413h1v1h-1zM371 413h1v1h-1zM422 413h2v1h-2zM442 413h1v1h-1zM512 413h2v1h-2zM516 413h1v1h-1zM82 414h1v1h-1zM86 414h1v1h-1zM159 414h1v1h-1zM177 414h1v1h-1zM229 414h1v1h-1zM267 414h1v1h-1zM280 414h8v1h-8zM300 414h1v1h-1zM311 414h8v1h-8zM333 414h1v1h-1zM371 414h1v1h-1zM424 414h1v1h-1zM441 414h1v1h-1zM514 414h1v1h-1zM516 414h1v1h-1zM83 415h3v1h-3zM160 415h1v1h-1zM176 415h1v1h-1zM228 415h1v1h-1zM267 415h1v1h-1zM288 415h23v1h-23zM333 415h1v1h-1zM372 415h1v1h-1zM440 415h1v1h-1zM515 415h3v1h-3zM83 416h1v1h-1zM161 416h1v1h-1zM175 416h1v1h-1zM228 416h1v1h-1zM266 416h1v1h-1zM300 416h1v1h-1zM334 416h1v1h-1zM372 416h1v1h-1zM425 416h1v1h-1zM439 416h1v1h-1zM515 416h1v1h-1zM84 417h1v1h-1zM162 417h1v1h-1zM174 417h1v1h-1zM227 417h1v1h-1zM266 417h1v1h-1zM300 417h1v1h-1zM334 417h1v1h-1zM373 417h1v1h-1zM426 417h1v1h-1zM438 417h1v1h-1zM514 417h1v1h-1zM85 418h1v1h-1zM163 418h1v1h-1zM173 418h1v1h-1zM226 418h1v1h-1zM266 418h1v1h-1zM300 418h1v1h-1zM334 418h1v1h-1zM374 418h1v1h-1zM427 418h2v1h-2zM437 418h1v1h-1zM513 418h1v1h-1zM85 419h1v1h-1zM164 419h1v1h-1zM172 419h1v1h-1zM226 419h1v1h-1zM266 419h1v1h-1zM300 419h1v1h-1zM334 419h1v1h-1zM374 419h1v1h-1zM429 419h1v1h-1zM436 419h1v1h-1zM513 419h1v1h-1zM86 420h1v1h-1zM165 420h1v1h-1zM171 420h1v1h-1zM225 420h1v1h-1zM265 420h1v1h-1zM300 420h1v1h-1zM335 420h1v1h-1zM375 420h1v1h-1zM430 420h1v1h-1zM435 420h1v1h-1zM512 420h1v1h-1zM86 421h1v1h-1zM166 421h1v1h-1zM170 421h1v1h-1zM225 421h1v1h-1zM265 421h1v1h-1zM300 421h1v1h-1zM335 421h1v1h-1zM375 421h1v1h-1zM431 421h1v1h-1zM434 421h1v1h-1zM512 421h1v1h-1zM87 422h1v1h-1zM167 422h1v1h-1zM169 422h1v1h-1zM224 422h1v1h-1zM265 422h1v1h-1zM300 422h1v1h-1zM335 422h1v1h-1zM376 422h1v1h-1zM433 422h1v1h-1zM511 422h1v1h-1zM88 423h1v1h-1zM168 423h1v1h-1zM224 423h1v1h-1zM264 423h1v1h-1zM300 423h1v1h-1zM336 423h1v1h-1zM376 423h1v1h-1zM432 423h1v1h-1zM510 423h1v1h-1zM88 424h1v1h-1zM167 424h1v1h-1zM169 424h1v1h-1zM223 424h1v1h-1zM264 424h1v1h-1zM300 424h1v1h-1zM336 424h1v1h-1zM377 424h1v1h-1zM431 424h1v1h-1zM433 424h2v1h-2zM510 424h1v1h-1zM89 425h1v1h-1zM166 425h1v1h-1zM170 425h1v1h-1zM222 425h1v1h-1zM264 425h1v1h-1zM300 425h1v1h-1zM336 425h1v1h-1zM378 425h1v1h-1zM430 425h1v1h-1zM435 425h1v1h-1zM509 425h1v1h-1zM90 426h1v1h-1zM165 426h1v1h-1zM171 426h1v1h-1zM222 426h1v1h-1zM264 426h1v1h-1zM300 426h1v1h-1zM336 426h1v1h-1zM378 426h1v1h-1zM429 426h1v1h-1zM436 426h1v1h-1zM508 426h1v1h-1zM90 427h1v1h-1zM164 427h1v1h-1zM172 427h1v1h-1zM221 427h1v1h-1zM263 427h1v1h-1zM300 427h1v1h-1zM337 427h1v1h-1zM379 427h1v1h-1zM428 427h1v1h-1zM437 427h1v1h-1zM508 427h1v1h-1zM91 428h1v1h-1zM163 428h1v1h-1zM173 428h1v1h-1zM221 428h1v1h-1zM263 428h1v1h-1zM300 428h1v1h-1zM337 428h1v1h-1zM379 428h1v1h-1zM427 428h1v1h-1zM507 428h1v1h-1zM92 429h1v1h-1zM162 429h1v1h-1zM174 429h1v1h-1zM220 429h1v1h-1zM263 429h1v1h-1zM300 429h1v1h-1zM337 429h1v1h-1zM380 429h1v1h-1zM426 429h1v1h-1zM438 429h2v1h-2zM506 429h1v1h-1zM92 430h1v1h-1zM161 430h1v1h-1zM175 430h1v1h-1zM219 430h1v1h-1zM263 430h1v1h-1zM300 430h1v1h-1zM337 430h1v1h-1zM381 430h1v1h-1zM425 430h1v1h-1zM440 430h1v1h-1zM506 430h1v1h-1zM93 431h1v1h-1zM160 431h1v1h-1zM176 431h1v1h-1zM219 431h1v1h-1zM262 431h1v1h-1zM300 431h1v1h-1zM338 431h1v1h-1zM381 431h1v1h-1zM424 431h1v1h-1zM441 431h1v1h-1zM505 431h1v1h-1zM94 432h1v1h-1zM159 432h1v1h-1zM177 432h2v1h-2zM218 432h1v1h-1zM262 432h1v1h-1zM300 432h1v1h-1zM338 432h1v1h-1zM382 432h1v1h-1zM422 432h2v1h-2zM442 432h1v1h-1zM504 432h1v1h-1zM94 433h1v1h-1zM158 433h1v1h-1zM179 433h1v1h-1zM218 433h1v1h-1zM262 433h1v1h-1zM300 433h1v1h-1zM338 433h1v1h-1zM382 433h1v1h-1zM421 433h1v1h-1zM443 433h1v1h-1zM504 433h1v1h-1zM95 434h1v1h-1zM157 434h1v1h-1zM180 434h1v1h-1zM217 434h1v1h-1zM262 434h1v1h-1zM300 434h1v1h-1zM338 434h1v1h-1zM383 434h1v1h-1zM420 434h1v1h-1zM444 434h1v1h-1zM503 434h1v1h-1zM96 435h1v1h-1zM156 435h1v1h-1zM181 435h1v1h-1zM217 435h1v1h-1zM261 435h1v1h-1zM300 435h1v1h-1zM339 435h1v1h-1zM383 435h1v1h-1zM419 435h1v1h-1zM445 435h1v1h-1zM502 435h1v1h-1zM96 436h1v1h-1zM155 436h1v1h-1zM182 436h1v1h-1zM216 436h1v1h-1zM261 436h1v1h-1zM300 436h1v1h-1zM339 436h1v1h-1zM384 436h1v1h-1zM418 436h1v1h-1zM446 436h1v1h-1zM502 436h1v1h-1zM97 437h1v1h-1zM154 437h1v1h-1zM183 437h2v1h-2zM215 437h1v1h-1zM261 437h1v1h-1zM300 437h1v1h-1zM339 437h1v1h-1zM385 437h1v1h-1zM416 437h2v1h-2zM447 437h1v1h-1zM501 437h1v1h-1zM98 438h1v1h-1zM153 438h1v1h-1zM185 438h1v1h-1zM215 438h1v1h-1zM260 438h1v1h-1zM300 438h1v1h-1zM340 438h1v1h-1zM385 438h1v1h-1zM415 438h1v1h-1zM448 438h1v1h-1zM500 438h1v1h-1zM99 439h1v1h-1zM152 439h1v1h-1zM186 439h1v1h-1zM214 439h1v1h-1zM260 439h1v1h-1zM300 439h1v1h-1zM340 439h1v1h-1zM386 439h1v1h-1zM414 439h1v1h-1zM449 439h1v1h-1zM499 439h1v1h-1zM99 440h1v1h-1zM151 440h1v1h-1zM187 440h1v1h-1zM214 440h1v1h-1zM260 440h1v1h-1zM300 440h1v1h-1zM340 440h1v1h-1zM386 440h1v1h-1zM413 440h1v1h-1zM450 440h1v1h-1zM499 440h1v1h-1zM100 441h1v1h-1zM150 441h1v1h-1zM188 441h2v1h-2zM213 441h1v1h-1zM260 441h1v1h-1zM300 441h1v1h-1zM340 441h1v1h-1zM387 441h1v1h-1zM411 441h2v1h-2zM451 441h1v1h-1zM498 441h1v1h-1zM101 442h1v1h-1zM149 442h1v1h-1zM190 442h1v1h-1zM213 442h1v1h-1zM259 442h1v1h-1zM300 442h1v1h-1zM341 442h1v1h-1zM387 442h1v1h-1zM410 442h1v1h-1zM452 442h1v1h-1zM497 442h1v1h-1zM102 443h1v1h-1zM148 443h1v1h-1zM191 443h2v1h-2zM212 443h1v1h-1zM259 443h1v1h-1zM300 443h1v1h-1zM341 443h1v1h-1zM388 443h1v1h-1zM408 443h2v1h-2zM453 443h1v1h-1zM496 443h1v1h-1zM102 444h1v1h-1zM147 444h1v1h-1zM193 444h1v1h-1zM211 444h1v1h-1zM259 444h1v1h-1zM300 444h1v1h-1zM341 444h1v1h-1zM389 444h1v1h-1zM407 444h1v1h-1zM454 444h1v1h-1zM496 444h1v1h-1zM103 445h1v1h-1zM146 445h1v1h-1zM194 445h1v1h-1zM211 445h1v1h-1zM259 445h1v1h-1zM300 445h1v1h-1zM341 445h1v1h-1zM389 445h1v1h-1zM406 445h1v1h-1zM455 445h1v1h-1zM495 445h1v1h-1zM104 446h1v1h-1zM145 446h1v1h-1zM195 446h2v1h-2zM210 446h1v1h-1zM258 446h1v1h-1zM300 446h1v1h-1zM342 446h1v1h-1zM390 446h1v1h-1zM404 446h2v1h-2zM456 446h1v1h-1zM494 446h1v1h-1zM105 447h1v1h-1zM144 447h1v1h-1zM197 447h2v1h-2zM210 447h1v1h-1zM258 447h1v1h-1zM300 447h1v1h-1zM342 447h1v1h-1zM390 447h1v1h-1zM402 447h2v1h-2zM457 447h1v1h-1zM493 447h1v1h-1zM106 448h1v1h-1zM143 448h1v1h-1zM199 448h1v1h-1zM209 448h1v1h-1zM258 448h1v1h-1zM300 448h1v1h-1zM342 448h1v1h-1zM391 448h1v1h-1zM401 448h1v1h-1zM458 448h1v1h-1zM492 448h1v1h-1zM106 449h1v1h-1zM142 449h1v1h-1zM200 449h2v1h-2zM208 449h1v1h-1zM258 449h1v1h-1zM300 449h1v1h-1zM342 449h1v1h-1zM392 449h1v1h-1zM399 449h2v1h-2zM459 449h1v1h-1zM492 449h1v1h-1zM107 450h1v1h-1zM141 450h1v1h-1zM202 450h1v1h-1zM208 450h1v1h-1zM257 450h1v1h-1zM300 450h1v1h-1zM343 450h1v1h-1zM392 450h1v1h-1zM398 450h1v1h-1zM460 450h1v1h-1zM491 450h1v1h-1zM108 451h1v1h-1zM140 451h1v1h-1zM203 451h2v1h-2zM207 451h1v1h-1zM257 451h1v1h-1zM300 451h1v1h-1zM343 451h1v1h-1zM393 451h1v1h-1zM396 451h2v1h-2zM461 451h1v1h-1zM490 451h1v1h-1zM109 452h1v1h-1zM139 452h1v1h-1zM205 452h3v1h-3zM257 452h1v1h-1zM300 452h1v1h-1zM343 452h1v1h-1zM393 452h3v1h-3zM462 452h1v1h-1zM489 452h1v1h-1zM110 453h1v1h-1zM138 453h1v1h-1zM206 453h2v1h-2zM256 453h1v1h-1zM300 453h1v1h-1zM344 453h1v1h-1zM393 453h2v1h-2zM463 453h1v1h-1zM488 453h1v1h-1zM111 454h1v1h-1zM137 454h1v1h-1zM206 454h1v1h-1zM208 454h2v1h-2zM256 454h1v1h-1zM300 454h1v1h-1zM344 454h1v1h-1zM391 454h2v1h-2zM394 454h1v1h-1zM464 454h1v1h-1zM487 454h1v1h-1zM112 455h1v1h-1zM136 455h1v1h-1zM205 455h1v1h-1zM210 455h2v1h-2zM256 455h1v1h-1zM300 455h1v1h-1zM344 455h1v1h-1zM389 455h2v1h-2zM395 455h1v1h-1zM465 455h1v1h-1zM486 455h1v1h-1zM112 456h1v1h-1zM135 456h1v1h-1zM204 456h1v1h-1zM212 456h2v1h-2zM256 456h1v1h-1zM300 456h1v1h-1zM344 456h1v1h-1zM387 456h2v1h-2zM396 456h1v1h-1zM466 456h1v1h-1zM486 456h1v1h-1zM113 457h1v1h-1zM134 457h1v1h-1zM204 457h1v1h-1zM214 457h2v1h-2zM255 457h1v1h-1zM300 457h1v1h-1zM345 457h1v1h-1zM385 457h2v1h-2zM396 457h1v1h-1zM467 457h1v1h-1zM485 457h1v1h-1zM114 458h1v1h-1zM133 458h1v1h-1zM203 458h1v1h-1zM216 458h2v1h-2zM255 458h1v1h-1zM300 458h1v1h-1zM345 458h1v1h-1zM383 458h2v1h-2zM397 458h1v1h-1zM468 458h1v1h-1zM484 458h1v1h-1zM115 459h1v1h-1zM132 459h1v1h-1zM203 459h1v1h-1zM218 459h2v1h-2zM255 459h1v1h-1zM300 459h1v1h-1zM345 459h1v1h-1zM381 459h2v1h-2zM397 459h1v1h-1zM469 459h1v1h-1zM483 459h1v1h-1zM116 460h1v1h-1zM131 460h1v1h-1zM202 460h1v1h-1zM220 460h2v1h-2zM255 460h1v1h-1zM300 460h1v1h-1zM345 460h1v1h-1zM379 460h2v1h-2zM398 460h1v1h-1zM470 460h1v1h-1zM482 460h1v1h-1zM117 461h1v1h-1zM130 461h1v1h-1zM202 461h1v1h-1zM222 461h2v1h-2zM254 461h1v1h-1zM300 461h1v1h-1zM346 461h1v1h-1zM377 461h2v1h-2zM398 461h1v1h-1zM471 461h1v1h-1zM481 461h1v1h-1zM118 462h1v1h-1zM129 462h1v1h-1zM201 462h1v1h-1zM224 462h2v1h-2zM254 462h1v1h-1zM300 462h1v1h-1zM346 462h1v1h-1zM375 462h2v1h-2zM399 462h1v1h-1zM472 462h1v1h-1zM480 462h1v1h-1zM119 463h1v1h-1zM128 463h1v1h-1zM200 463h1v1h-1zM226 463h3v1h-3zM254 463h1v1h-1zM300 463h1v1h-1zM346 463h1v1h-1zM372 463h3v1h-3zM400 463h1v1h-1zM473 463h1v1h-1zM479 463h1v1h-1zM120 464h1v1h-1zM127 464h1v1h-1zM200 464h1v1h-1zM229 464h2v1h-2zM254 464h1v1h-1zM300 464h1v1h-1zM346 464h1v1h-1zM370 464h2v1h-2zM400 464h1v1h-1zM474 464h1v1h-1zM478 464h1v1h-1zM121 465h1v1h-1zM126 465h1v1h-1zM199 465h1v1h-1zM231 465h3v1h-3zM253 465h1v1h-1zM300 465h1v1h-1zM347 465h1v1h-1zM367 465h3v1h-3zM401 465h1v1h-1zM475 465h1v1h-1zM477 465h1v1h-1zM122 466h1v1h-1zM125 466h1v1h-1zM199 466h1v1h-1zM234 466h3v1h-3zM253 466h1v1h-1zM300 466h1v1h-1zM347 466h1v1h-1zM364 466h3v1h-3zM401 466h1v1h-1zM476 466h1v1h-1zM123 467h2v1h-2zM198 467h1v1h-1zM237 467h2v1h-2zM253 467h1v1h-1zM300 467h1v1h-1zM347 467h1v1h-1zM362 467h2v1h-2zM402 467h1v1h-1zM475 467h1v1h-1zM477 467h1v1h-1zM124 468h1v1h-1zM198 468h1v1h-1zM239 468h3v1h-3zM252 468h1v1h-1zM300 468h1v1h-1zM348 468h1v1h-1zM359 468h3v1h-3zM402 468h1v1h-1zM474 468h1v1h-1zM125 469h1v1h-1zM197 469h1v1h-1zM242 469h4v1h-4zM252 469h1v1h-1zM300 469h1v1h-1zM348 469h1v1h-1zM355 469h4v1h-4zM403 469h1v1h-1zM473 469h1v1h-1zM126 470h1v1h-1zM196 470h1v1h-1zM246 470h3v1h-3zM252 470h1v1h-1zM300 470h1v1h-1zM348 470h1v1h-1zM352 470h3v1h-3zM404 470h1v1h-1zM472 470h1v1h-1zM127 471h1v1h-1zM196 471h1v1h-1zM249 471h4v1h-4zM300 471h1v1h-1zM348 471h4v1h-4zM404 471h1v1h-1zM471 471h1v1h-1zM128 472h1v1h-1zM195 472h1v1h-1zM251 472h5v1h-5zM300 472h1v1h-1zM345 472h5v1h-5zM405 472h1v1h-1zM470 472h1v1h-1zM129 473h1v1h-1zM195 473h1v1h-1zM251 473h1v1h-1zM256 473h5v1h-5zM300 473h1v1h-1zM340 473h5v1h-5zM349 473h1v1h-1zM405 473h1v1h-1zM469 473h1v1h-1zM130 474h1v1h-1zM194 474h1v1h-1zM251 474h1v1h-1zM261 474h5v1h-5zM300 474h1v1h-1zM335 474h5v1h-5zM349 474h1v1h-1zM406 474h1v1h-1zM468 474h1v1h-1zM131 475h1v1h-1zM193 475h1v1h-1zM251 475h1v1h-1zM266 475h5v1h-5zM300 475h1v1h-1zM330 475h5v1h-5zM349 475h1v1h-1zM407 475h1v1h-1zM467 475h1v1h-1zM132 476h1v1h-1zM193 476h1v1h-1zM250 476h1v1h-1zM271 476h8v1h-8zM300 476h1v1h-1zM322 476h8v1h-8zM350 476h1v1h-1zM407 476h1v1h-1zM466 476h1v1h-1zM133 477h2v1h-2zM192 477h1v1h-1zM250 477h1v1h-1zM279 477h11v1h-11zM300 477h1v1h-1zM311 477h11v1h-11zM350 477h1v1h-1zM408 477h1v1h-1zM464 477h2v1h-2zM135 478h1v1h-1zM192 478h1v1h-1zM250 478h1v1h-1zM290 478h21v1h-21zM350 478h1v1h-1zM408 478h1v1h-1zM463 478h1v1h-1zM136 479h1v1h-1zM191 479h1v1h-1zM249 479h1v1h-1zM300 479h1v1h-1zM351 479h1v1h-1zM409 479h1v1h-1zM462 479h1v1h-1zM137 480h1v1h-1zM191 480h1v1h-1zM249 480h1v1h-1zM300 480h1v1h-1zM351 480h1v1h-1zM409 480h1v1h-1zM461 480h1v1h-1zM138 481h1v1h-1zM190 481h1v1h-1zM249 481h1v1h-1zM300 481h1v1h-1zM351 481h1v1h-1zM410 481h1v1h-1zM460 481h1v1h-1zM139 482h1v1h-1zM189 482h1v1h-1zM249 482h1v1h-1zM300 482h1v1h-1zM351 482h1v1h-1zM411 482h1v1h-1zM459 482h1v1h-1zM140 483h2v1h-2zM189 483h1v1h-1zM248 483h1v1h-1zM300 483h1v1h-1zM352 483h1v1h-1zM411 483h1v1h-1zM457 483h2v1h-2zM142 484h1v1h-1zM188 484h1v1h-1zM248 484h1v1h-1zM300 484h1v1h-1zM352 484h1v1h-1zM412 484h1v1h-1zM456 484h1v1h-1zM143 485h1v1h-1zM188 485h1v1h-1zM248 485h1v1h-1zM300 485h1v1h-1zM352 485h1v1h-1zM412 485h1v1h-1zM455 485h1v1h-1zM144 486h1v1h-1zM187 486h1v1h-1zM248 486h1v1h-1zM300 486h1v1h-1zM352 486h1v1h-1zM413 486h1v1h-1zM454 486h1v1h-1zM145 487h2v1h-2zM187 487h1v1h-1zM247 487h1v1h-1zM300 487h1v1h-1zM353 487h1v1h-1zM413 487h1v1h-1zM452 487h2v1h-2zM147 488h1v1h-1zM186 488h1v1h-1zM247 488h1v1h-1zM300 488h1v1h-1zM353 488h1v1h-1zM414 488h1v1h-1zM451 488h1v1h-1zM148 489h1v1h-1zM185 489h1v1h-1zM247 489h1v1h-1zM300 489h1v1h-1zM353 489h1v1h-1zM415 489h1v1h-1zM450 489h1v1h-1zM149 490h2v1h-2zM185 490h1v1h-1zM247 490h1v1h-1zM300 490h1v1h-1zM353 490h1v1h-1zM415 490h1v1h-1zM448 490h2v1h-2zM151 491h1v1h-1zM184 491h1v1h-1zM246 491h1v1h-1zM300 491h1v1h-1zM354 491h1v1h-1zM416 491h1v1h-1zM447 491h1v1h-1zM152 492h1v1h-1zM184 492h1v1h-1zM246 492h1v1h-1zM300 492h1v1h-1zM354 492h1v1h-1zM416 492h1v1h-1zM446 492h1v1h-1zM153 493h2v1h-2zM183 493h1v1h-1zM246 493h1v1h-1zM300 493h1v1h-1zM354 493h1v1h-1zM417 493h1v1h-1zM444 493h2v1h-2zM155 494h1v1h-1zM183 494h1v1h-1zM245 494h1v1h-1zM300 494h1v1h-1zM355 494h1v1h-1zM417 494h1v1h-1zM443 494h1v1h-1zM156 495h2v1h-2zM182 495h1v1h-1zM245 495h1v1h-1zM300 495h1v1h-1zM355 495h1v1h-1zM418 495h1v1h-1zM441 495h2v1h-2zM158 496h1v1h-1zM181 496h1v1h-1zM245 496h1v1h-1zM300 496h1v1h-1zM355 496h1v1h-1zM419 496h1v1h-1zM440 496h1v1h-1zM159 497h2v1h-2zM181 497h1v1h-1zM245 497h1v1h-1zM300 497h1v1h-1zM355 497h1v1h-1zM419 497h1v1h-1zM438 497h2v1h-2zM161 498h1v1h-1zM180 498h1v1h-1zM244 498h1v1h-1zM300 498h1v1h-1zM356 498h1v1h-1zM420 498h1v1h-1zM437 498h1v1h-1zM162 499h2v1h-2zM180 499h1v1h-1zM244 499h1v1h-1zM300 499h1v1h-1zM356 499h1v1h-1zM420 499h1v1h-1zM435 499h2v1h-2zM164 500h1v1h-1zM179 500h1v1h-1zM244 500h1v1h-1zM300 500h1v1h-1zM356 500h1v1h-1zM421 500h1v1h-1zM434 500h1v1h-1zM165 501h2v1h-2zM178 501h1v1h-1zM244 501h1v1h-1zM300 501h1v1h-1zM356 501h1v1h-1zM422 501h1v1h-1zM432 501h2v1h-2zM167 502h1v1h-1zM178 502h1v1h-1zM243 502h1v1h-1zM300 502h1v1h-1zM357 502h1v1h-1zM422 502h1v1h-1zM431 502h1v1h-1zM168 503h2v1h-2zM177 503h1v1h-1zM243 503h1v1h-1zM300 503h1v1h-1zM357 503h1v1h-1zM423 503h1v1h-1zM429 503h2v1h-2zM170 504h2v1h-2zM177 504h1v1h-1zM243 504h1v1h-1zM300 504h1v1h-1zM357 504h1v1h-1zM423 504h1v1h-1zM427 504h2v1h-2zM172 505h1v1h-1zM176 505h1v1h-1zM243 505h1v1h-1zM300 505h1v1h-1zM357 505h1v1h-1zM424 505h1v1h-1zM426 505h1v1h-1zM173 506h2v1h-2zM176 506h1v1h-1zM242 506h1v1h-1zM300 506h1v1h-1zM358 506h1v1h-1zM424 506h2v1h-2zM175 507h2v1h-2zM242 507h1v1h-1zM300 507h1v1h-1zM358 507h1v1h-1zM422 507h2v1h-2zM425 507h1v1h-1zM177 508h2v1h-2zM242 508h1v1h-1zM300 508h1v1h-1zM358 508h1v1h-1zM420 508h2v1h-2zM179 509h1v1h-1zM241 509h1v1h-1zM300 509h1v1h-1zM359 509h1v1h-1zM419 509h1v1h-1zM180 510h2v1h-2zM241 510h1v1h-1zM300 510h1v1h-1zM359 510h1v1h-1zM417 510h2v1h-2zM182 511h2v1h-2zM241 511h1v1h-1zM300 511h1v1h-1zM359 511h1v1h-1zM415 511h2v1h-2zM184 512h2v1h-2zM241 512h1v1h-1zM300 512h1v1h-1zM359 512h1v1h-1zM413 512h2v1h-2zM186 513h2v1h-2zM240 513h1v1h-1zM300 513h1v1h-1zM360 513h1v1h-1zM411 513h2v1h-2zM188 514h2v1h-2zM240 514h1v1h-1zM300 514h1v1h-1zM360 514h1v1h-1zM409 514h2v1h-2zM190 515h2v1h-2zM240 515h1v1h-1zM300 515h1v1h-1zM360 515h1v1h-1zM407 515h2v1h-2zM192 516h2v1h-2zM240 516h1v1h-1zM300 516h1v1h-1zM360 516h1v1h-1zM405 516h2v1h-2zM194 517h3v1h-3zM239 517h1v1h-1zM300 517h1v1h-1zM361 517h1v1h-1zM402 517h3v1h-3zM197 518h2v1h-2zM239 518h1v1h-1zM300 518h1v1h-1zM361 518h1v1h-1zM400 518h2v1h-2zM199 519h2v1h-2zM239 519h1v1h-1zM300 519h1v1h-1zM361 519h1v1h-1zM398 519h2v1h-2zM201 520h2v1h-2zM239 520h1v1h-1zM300 520h1v1h-1zM361 520h1v1h-1zM396 520h2v1h-2zM203 521h3v1h-3zM238 521h1v1h-1zM300 521h1v1h-1zM362 521h1v1h-1zM393 521h3v1h-3zM206 522h2v1h-2zM238 522h1v1h-1zM300 522h1v1h-1zM362 522h1v1h-1zM391 522h2v1h-2zM208 523h3v1h-3zM238 523h1v1h-1zM300 523h1v1h-1zM362 523h1v1h-1zM388 523h3v1h-3zM211 524h3v1h-3zM237 524h1v1h-1zM300 524h1v1h-1zM363 524h1v1h-1zM385 524h3v1h-3zM214 525h2v1h-2zM237 525h1v1h-1zM300 525h1v1h-1zM363 525h1v1h-1zM383 525h2v1h-2zM216 526h3v1h-3zM237 526h1v1h-1zM300 526h1v1h-1zM363 526h1v1h-1zM380 526h3v1h-3zM219 527h3v1h-3zM237 527h1v1h-1zM300 527h1v1h-1zM363 527h1v1h-1zM377 527h3v1h-3zM222 528h4v1h-4zM236 528h1v1h-1zM300 528h1v1h-1zM364 528h1v1h-1zM373 528h4v1h-4zM226 529h3v1h-3zM236 529h1v1h-1zM300 529h1v1h-1zM364 529h1v1h-1zM370 529h3v1h-3zM229 530h3v1h-3zM236 530h1v1h-1zM300 530h1v1h-1zM364 530h1v1h-1zM367 530h3v1h-3zM232 531h5v1h-5zM300 531h1v1h-1zM363 531h4v1h-4zM235 532h5v1h-5zM300 532h1v1h-1zM359 532h4v1h-4zM365 532h1v1h-1zM240 533h4v1h-4zM300 533h1v1h-1zM355 533h4v1h-4zM244 534h5v1h-5zM300 534h1v1h-1zM350 534h5v1h-5zM249 535h5v1h-5zM300 535h1v1h-1zM345 535h5v1h-5zM254 536h6v1h-6zM300 536h1v1h-1zM339 536h6v1h-6zM260 537h6v1h-6zM300 537h1v1h-1zM333 537h6v1h-6zM266 538h9v1h-9zM300 538h1v1h-1zM324 538h9v1h-9zM275 539h15v1h-15zM300 539h1v1h-1zM309 539h15v1h-15zM290 540h19v1h-19zM300 541h1v1h-1z" fill="#000" shape-rendering="crispEdges"/>
<path d="M289 99h22v1h-22zM285 100h31v1h-31zM281 101h38v1h-38zM279 102h11v1h-11zM311 102h11v1h-11zM276 103h9v1h-9zM316 103h9v1h-9zM274 104h8v1h-8zM319 104h8v1h-8zM272 105h7v1h-7zM322 105h7v1h-7zM270 106h7v1h-7zM324 106h7v1h-7zM268 107h7v1h-7zM326 107h6v1h-6zM267 108h6v1h-6zM328 108h6v1h-6zM265 109h6v1h-6zM330 109h5v1h-5zM264 110h5v1h-5zM331 110h6v1h-6zM263 111h5v1h-5zM333 111h5v1h-5zM261 112h5v1h-5zM334 112h6v1h-6zM260 113h5v1h-5zM336 113h5v1h-5zM259 114h5v1h-5zM337 114h5v1h-5zM258 115h4v1h-4zM338 115h5v1h-5zM257 116h4v1h-4zM340 116h4v1h-4zM256 117h4v1h-4zM341 117h4v1h-4zM255 118h4v1h-4zM342 118h4v1h-4zM254 119h4v1h-4zM343 119h4v1h-4zM253 120h4v1h-4zM344 120h4v1h-4zM252 121h4v1h-4zM345 121h4v1h-4zM251 122h4v1h-4zM346 122h4v1h-4zM250 123h4v1h-4zM347 123h4v1h-4zM249 124h4v1h-4zM348 124h4v1h-4zM248 125h4v1h-4zM349 125h3v1h-3zM248 126h3v1h-3zM349 126h4v1h-4zM247 127h4v1h-4zM350 127h4v1h-4zM246 128h4v1h-4zM351 128h4v1h-4zM245 129h4v1h-4zM352 129h3v1h-3zM245 130h3v1h-3zM352 130h4v1h-4zM244 131h4v1h-4zM353 131h4v1h-4zM243 132h4v1h-4zM354 132h3v1h-3zM243 133h3v1h-3zM354 133h4v1h-4zM242 134h4v1h-4zM355 134h4v1h-4zM242 135h3v1h-3zM356 135h3v1h-3zM241 136h4v1h-4zM356 136h4v1h-4zM241 137h3v1h-3zM357 137h3v1h-3zM240 138h3v1h-3zM357 138h4v1h-4zM239 139h4v1h-4zM358 139h3v1h-3zM239 140h3v1h-3zM358 140h4v1h-4zM238 141h4v1h-4zM359 141h3v1h-3zM238 142h3v1h-3zM359 142h4v1h-4zM238 143h3v1h-3zM360 143h3v1h-3zM237 144h3v1h-3zM360 144h4v1h-4zM237 145h3v1h-3zM361 145h3v1h-3zM236 146h3v1h-3zM361 146h4v1h-4zM236 147h3v1h-3zM362 147h3v1h-3zM235 148h4v1h-4zM362 148h3v1h-3zM235 149h3v1h-3zM363 149h3v1h-3zM235 150h3v1h-3zM363 150h3v1h-3zM234 151h4v1h-4zM363 151h3v1h-3zM234 152h3v1h-3zM364 152h3v1h-3zM234 153h3v1h-3zM364 153h3v1h-3zM233 154h3v1h-3zM364 154h3v1h-3zM233 155h3v1h-3zM365 155h3v1h-3zM233 156h3v1h-3zM365 156h3v1h-3zM232 157h4v1h-4zM365 157h3v1h-3zM232 158h3v1h-3zM366 158h3v1h-3zM232 159h3v1h-3zM366 159h3v1h-3zM232 160h3v1h-3zM366 160h3v1h-3zM231 161h3v1h-3zM366 161h3v1h-3zM231 162h3v1h-3zM367 162h3v1h-3zM231 163h3v1h-3zM367 163h3v1h-3zM231 164h3v1h-3zM367 164h3v1h-3zM231 165h3v1h-3zM367 165h3v1h-3zM230 166h3v1h-3zM367 166h3v1h-3zM230 167h3v1h-3zM368 167h3v1h-3zM230 168h3v1h-3zM368 168h3v1h-3zM230 169h3v1h-3zM368 169h3v1h-3zM230 170h3v1h-3zM368 170h3v1h-3zM230 171h3v1h-3zM368 171h3v1h-3zM229 172h3v1h-3zM368 172h3v1h-3zM229 173h3v1h-3zM368 173h4v1h-4zM229 174h3v1h-3zM369 174h3v1h-3zM229 175h3v1h-3zM369 175h3v1h-3zM229 176h3v1h-3zM369 176h3v1h-3zM229 177h3v1h-3zM369 177h3v1h-3zM229 178h3v1h-3zM369 178h3v1h-3zM229 179h3v1h-3zM369 179h3v1h-3zM229 180h3v1h-3zM369 180h3v1h-3zM229 181h3v1h-3zM369 181h3v1h-3zM229 182h3v1h-3zM369 182h3v1h-3zM229 183h3v1h-3zM369 183h3v1h-3zM229 184h3v1h-3zM369 184h3v1h-3zM229 185h3v1h-3zM369 185h3v1h-3zM229 186h3v1h-3zM369 186h3v1h-3zM229 187h3v1h-3zM369 187h3v1h-3zM229 188h3v1h-3zM369 188h3v1h-3zM229 189h3v1h-3zM369 189h3v1h-3zM229 190h3v1h-3zM369 190h3v1h-3zM229 191h3v1h-3zM369 191h3v1h-3zM229 192h3v1h-3zM369 192h3v1h-3zM229 193h3v1h-3zM369 193h3v1h-3zM229 194h3v1h-3zM369 194h3v1h-3zM229 195h3v1h-3zM369 195h3v1h-3zM229 196h3v1h-3zM369 196h3v1h-3zM229 197h3v1h-3zM369 197h3v1h-3zM229 198h3v1h-3zM369 198h3v1h-3zM229 199h3v1h-3zM369 199h3v1h-3zM229 200h3v1h-3zM368 200h3v1h-3zM229 201h3v1h-3zM368 201h3v1h-3zM230 202h3v1h-3zM368 202h3v1h-3zM230 203h3v1h-3zM368 203h3v1h-3zM230 204h3v1h-3zM368 204h3v1h-3zM230 205h3v1h-3zM368 205h3v1h-3zM230 206h3v1h-3zM368 206h3v1h-3zM230 207h3v1h-3zM368 207h3v1h-3zM230 208h3v1h-3zM367 208h3v1h-3zM230 209h4v1h-4zM367 209h3v1h-3zM231 210h3v1h-3zM367 210h3v1h-3zM231 211h3v1h-3zM367 211h3v1h-3zM231 212h3v1h-3zM367 212h3v1h-3zM231 213h3v1h-3zM367 213h3v1h-3zM231 214h3v1h-3zM367 214h3v1h-3zM231 215h3v1h-3zM366 215h3v1h-3zM232 216h3v1h-3zM366 216h3v1h-3zM232 217h3v1h-3zM366 217h3v1h-3zM232 218h3v1h-3zM366 218h3v1h-3zM232 219h3v1h-3zM366 219h3v1h-3zM232 220h3v1h-3zM365 220h4v1h-4zM232 221h4v1h-4zM365 221h3v1h-3zM233 222h3v1h-3zM365 222h3v1h-3zM233 223h3v1h-3zM365 223h3v1h-3zM233 224h3v1h-3zM365 224h3v1h-3zM233 225h3v1h-3zM364 225h3v1h-3zM234 226h3v1h-3zM364 226h3v1h-3zM234 227h3v1h-3zM364 227h3v1h-3zM234 228h3v1h-3zM364 228h3v1h-3zM234 229h4v1h-4zM363 229h3v1h-3zM235 230h3v1h-3zM363 230h3v1h-3zM235 231h3v1h-3zM363 231h3v1h-3zM235 232h3v1h-3zM362 232h3v1h-3zM236 233h3v1h-3zM362 233h3v1h-3zM236 234h3v1h-3zM362 234h3v1h-3zM236 235h4v1h-4zM361 235h3v1h-3zM237 236h3v1h-3zM361 236h3v1h-3zM237 237h3v1h-3zM360 237h4v1h-4zM238 238h3v1h-3zM360 238h3v1h-3zM238 239h3v1h-3zM360 239h3v1h-3zM238 240h4v1h-4zM359 240h3v1h-3zM239 241h3v1h-3zM359 241h3v1h-3zM239 242h4v1h-4zM358 242h4v1h-4zM240 243h3v1h-3zM358 243h3v1h-3zM240 244h4v1h-4zM357 244h4v1h-4zM241 245h3v1h-3zM357 245h3v1h-3zM241 246h4v1h-4zM356 246h3v1h-3zM242 247h3v1h-3zM355 247h4v1h-4zM242 248h4v1h-4zM355 248h3v1h-3zM243 249h4v1h-4zM354 249h4v1h-4zM244 250h3v1h-3zM354 250h3v1h-3zM244 251h4v1h-4zM353 251h4v1h-4zM245 252h3v1h-3zM352 252h4v1h-4zM245 253h4v1h-4zM352 253h3v1h-3zM246 254h4v1h-4zM351 254h4v1h-4zM247 255h3v1h-3zM350 255h4v1h-4zM247 256h4v1h-4zM350 256h3v1h-3zM248 257h4v1h-4zM349 257h4v1h-4zM249 258h3v1h-3zM348 258h4v1h-4zM250 259h3v1h-3zM348 259h3v1h-3zM250 260h4v1h-4zM347 260h4v1h-4zM251 261h4v1h-4zM346 261h4v1h-4zM252 262h3v1h-3zM346 262h3v1h-3zM252 263h4v1h-4zM345 263h3v1h-3zM253 264h4v1h-4zM344 264h4v1h-4zM254 265h3v1h-3zM343 265h4v1h-4zM254 266h4v1h-4zM343 266h3v1h-3zM255 267h4v1h-4zM342 267h4v1h-4zM256 268h4v1h-4zM341 268h4v1h-4zM257 269h3v1h-3zM341 269h3v1h-3zM257 270h4v1h-4zM340 270h4v1h-4zM258 271h4v1h-4zM339 271h4v1h-4zM259 272h4v1h-4zM338 272h4v1h-4zM260 273h4v1h-4zM337 273h4v1h-4zM260 274h5v1h-5zM336 274h4v1h-4zM261 275h5v1h-5zM335 275h4v1h-4zM262 276h5v1h-5zM334 276h4v1h-4zM263 277h5v1h-5zM333 277h4v1h-4zM264 278h5v1h-5zM332 278h4v1h-4zM266 279h4v1h-4zM330 279h5v1h-5zM267 280h5v1h-5zM329 280h5v1h-5zM268 281h5v1h-5zM327 281h6v1h-6zM270 282h5v1h-5zM326 282h5v1h-5zM271 283h6v1h-6zM324 283h6v1h-6zM273 284h6v1h-6zM322 284h6v1h-6zM274 285h7v1h-7zM320 285h7v1h-7zM276 286h7v1h-7zM318 286h7v1h-7zM278 287h7v1h-7zM316 287h7v1h-7zM280 288h9v1h-9zM312 288h9v1h-9zM282 289h37v1h-37zM285 290h31v1h-31zM289 291h23v1h-23z" fill="#E60000" shape-rendering="crispEdges"/>
<rect x="92.0" y="279.0" width="40.0" height="24.0" fill="#fff"/>
<rect x="155.0" y="279.0" width="39.0" height="24.0" fill="#fff"/>
<rect x="217.0" y="279.0" width="40.0" height="24.0" fill="#fff"/>
<g fill="#000" stroke="#000" stroke-width="0.3"><text transform="matrix(1 0 0 1.040 282.73 33.95)" font-family="'Liberation Sans', Arial, sans-serif" font-size="21">180<tspan dy="1.2">°</tspan></text><text transform="matrix(1 0 0 1.040 143.62 63.95)" font-family="'Liberation Sans', Arial, sans-serif" font-size="21">150<tspan dy="1.2">°</tspan></text><text transform="matrix(1 0 0 1.040 413.62 63.95)" font-family="'Liberation Sans', Arial, sans-serif" font-size="21">150<tspan dy="1.2">°</tspan></text><text transform="matrix(1 0 0 1.040 44.88 163.45)" font-family="'Liberation Sans', Arial, sans-serif" font-size="21">120<tspan dy="1.2">°</tspan></text><text transform="matrix(1 0 0 1.040 512.52 163.45)" font-family="'Liberation Sans', Arial, sans-serif" font-size="21">120<tspan dy="1.2">°</tspan></text><text transform="matrix(1 0 0 1.040 14.35 298.35)" font-family="'Liberation Sans', Arial, sans-serif" font-size="21">90<tspan dy="1.2">°</tspan></text><text transform="matrix(1 0 0 1.040 553.90 298.35)" font-family="'Liberation Sans', Arial, sans-serif" font-size="21">90<tspan dy="1.2">°</tspan></text><text transform="matrix(1 0 0 1.040 50.15 433.35)" font-family="'Liberation Sans', Arial, sans-serif" font-size="21">60<tspan dy="1.2">°</tspan></text><text transform="matrix(1 0 0 1.040 518.10 433.35)" font-family="'Liberation Sans', Arial, sans-serif" font-size="21">60<tspan dy="1.2">°</tspan></text><text transform="matrix(1 0 0 1.040 149.48 532.15)" font-family="'Liberation Sans', Arial, sans-serif" font-size="21">30<tspan dy="1.2">°</tspan></text><text transform="matrix(1 0 0 1.040 419.48 532.15)" font-family="'Liberation Sans', Arial, sans-serif" font-size="21">30<tspan dy="1.2">°</tspan></text><text transform="matrix(1 0 0 1.040 294.20 562.15)" font-family="'Liberation Sans', Arial, sans-serif" font-size="21">0<tspan dy="1.2">°</tspan></text><text transform="matrix(1 0 0 1.040 94.48 298.05)" font-family="'Liberation Sans', Arial, sans-serif" font-size="21">450</text><text transform="matrix(1 0 0 1.040 156.50 298.05)" font-family="'Liberation Sans', Arial, sans-serif" font-size="21">300</text><text transform="matrix(1 0 0 1.040 219.72 298.05)" font-family="'Liberation Sans', Arial, sans-serif" font-size="21">150</text><text transform="matrix(1 0 0 1.040 538.75 23.15)" font-family="'Liberation Sans', Arial, sans-serif" font-size="21">100%</text><text x="515.62" y="24.50" font-family="'Liberation Serif', serif" font-size="21">η</text><text x="528.00" y="24.75" font-family="'Liberation Sans', Arial, sans-serif" font-size="21">:</text><text x="12.30" y="587.55" font-family="'Liberation Sans', Arial, sans-serif" font-size="20.25">cd/klm</text><text transform="matrix(1 0 0 1.040 496.60 563.75)" font-family="'Liberation Sans', Arial, sans-serif" font-size="21">C180</text><text transform="matrix(1 0 0 1.040 553.85 563.75)" font-family="'Liberation Sans', Arial, sans-serif" font-size="21">|</text><text transform="matrix(1 0 0 1.040 566.00 563.75)" font-family="'Liberation Sans', Arial, sans-serif" font-size="21">C0</text><text transform="matrix(1 0 0 1.040 485.20 587.75)" font-family="'Liberation Sans', Arial, sans-serif" font-size="21">C270</text><text transform="matrix(1 0 0 1.040 542.25 587.75)" font-family="'Liberation Sans', Arial, sans-serif" font-size="21">|</text><text transform="matrix(1 0 0 1.040 553.60 587.75)" font-family="'Liberation Sans', Arial, sans-serif" font-size="21">C90</text></g>
<line x1="447.5" y1="557.5" x2="481.4" y2="557.5" stroke="#E60000" stroke-width="3" stroke-linecap="round"/>
<line x1="447.5" y1="581.5" x2="481.4" y2="581.5" stroke="#0000C8" stroke-width="3" stroke-linecap="round"/>
<rect x="1.5" y="1.5" width="597" height="597" fill="none" stroke="#000" stroke-width="3"/>
</svg>
</body></html>
